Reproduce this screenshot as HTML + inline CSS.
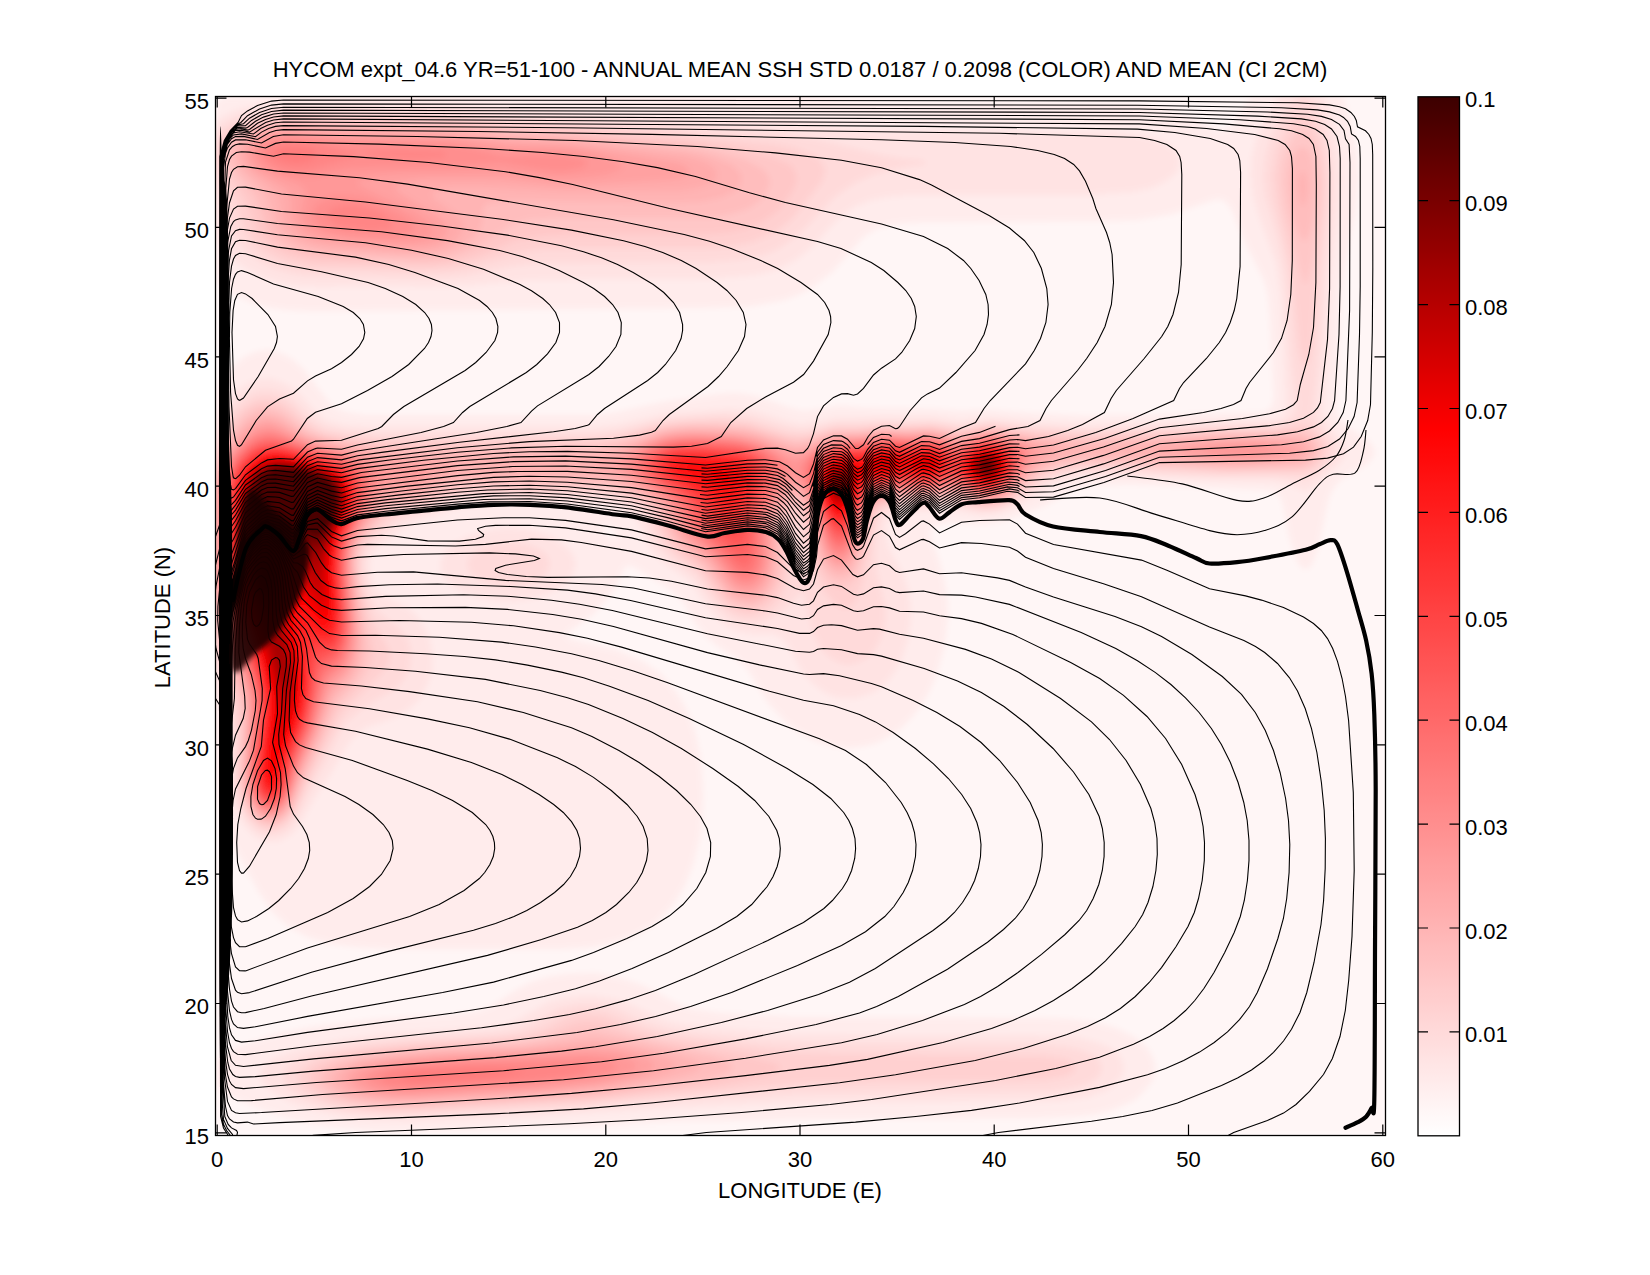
<!DOCTYPE html><html><head><meta charset="utf-8"><style>html,body{margin:0;padding:0;background:#fff;width:1650px;height:1275px;overflow:hidden}</style></head><body><svg width="1650" height="1275" viewBox="0 0 1650 1275" style="position:absolute;left:0;top:0"><rect width="1650" height="1275" fill="#fff"/><rect x="215.5" y="96.5" width="1170.0" height="1039.0" fill="#fffafa"/><defs><filter id="hb" x="0" y="0" width="1" height="1"><feGaussianBlur stdDeviation="3"/></filter><clipPath id="pc"><rect x="215.5" y="96.5" width="1170" height="1039"/></clipPath></defs><g clip-path="url(#pc)"><g filter="url(#hb)"><path fill="#fff6f6" fill-rule="evenodd" d="M1384 1134L216 1134 214 1132 213 1080 213 764 212 580 214 336 212 148 214 96 216 95 284 94 1216 95 1304 93 1384 95 1385 96 1385 452 1385 1132 1384 1134z"/><path fill="#ffecec" fill-rule="evenodd" d="M560 949L388 949 356 947 332 944 308 937 288 926 272 911 259 892 233 844 225 824 218 796 216 767 212 588 212 480 214 424 216 386 232 367 244 357 256 352 268 350 280 353 292 359 304 370 327 400 335 408 345 412 364 415 600 415 618 412 664 402 720 394 736 393 756 396 790 408 804 411 840 406 864 408 932 409 960 411 992 410 1028 413 1084 416 1260 413 1268 411 1271 408 1273 404 1274 396 1270 316 1268 294 1264 280 1246 244 1232 210 1228 204 1224 200 1216 199 1172 214 1136 220 1092 221 924 222 904 223 888 225 876 229 864 236 832 272 812 287 800 294 784 300 752 306 700 308 312 311 288 310 272 308 256 304 244 299 228 291 216 282 213 156 216 101 227 96 272 96 788 96 808 96 852 102 888 104 1112 105 1144 106 1168 110 1188 116 1216 129 1224 130 1228 128 1236 121 1251 96 1304 94 1343 96 1349 116 1354 136 1357 156 1358 180 1355 212 1344 267 1340 292 1336 408 1338 416 1340 420 1348 427 1368 440 1374 448 1374 452 1374 456 1367 464 1340 480 1332 490 1328 500 1318 548 1312 564 1308 569 1304 569 1300 566 1296 558 1289 536 1283 504 1280 496 1276 492 1268 490 1130 484 1096 485 1076 488 1044 506 1004 521 984 524 952 522 938 524 931 528 930 532 930 536 939 560 944 580 947 596 948 616 944 648 936 676 929 692 922 704 912 717 900 729 888 737 876 743 864 746 848 748 832 746 816 741 804 735 788 724 769 704 747 668 738 660 716 645 706 636 696 624 684 603 678 596 668 588 636 568 628 565 624 568 615 588 606 600 592 615 568 632 566 636 572 640 616 650 640 660 660 673 676 692 684 705 691 720 696 736 700 756 702 776 703 796 702 816 700 836 693 864 684 887 672 906 656 923 636 935 616 942 592 947 560 949zM617 536L616 531 612 527 604 526 601 528 603 532 612 539 616 540 617 536zM492 1129L412 1131 372 1131 332 1127 292 1119 264 1110 244 1102 228 1095 217 1088 216 1087 216 1060 232 1050 252 1042 276 1034 312 1027 376 1019 460 1014 476 1012 492 1006 516 990 532 982 548 977 568 974 596 973 624 979 644 986 680 1005 692 1009 720 1013 792 1017 1040 1018 1068 1019 1092 1022 1116 1028 1136 1038 1148 1049 1152 1056 1155 1064 1154 1076 1150 1084 1143 1092 1136 1099 1124 1105 1112 1110 1096 1114 1080 1116 1036 1118 828 1119 672 1121 564 1127 492 1129z"/><path fill="#ffe3e3" fill-rule="evenodd" d="M280 841L268 842 256 838 246 828 238 816 234 804 231 788 228 728 224 712 216 692 213 628 213 552 213 472 216 418 227 400 240 388 248 383 260 379 268 378 276 380 284 383 296 390 316 412 326 420 344 425 372 427 596 427 620 424 668 413 728 409 752 410 784 420 800 424 808 423 836 418 884 417 932 417 960 421 992 418 1032 422 1084 425 1273 420 1280 418 1284 415 1286 404 1281 296 1276 263 1259 216 1253 196 1251 176 1252 156 1256 140 1261 128 1279 96 1304 95 1324 96 1331 116 1337 140 1340 160 1341 180 1339 208 1330 280 1323 412 1328 424 1344 444 1346 452 1345 456 1339 464 1312 488 1308 490 1304 491 1288 484 1272 481 1212 480 1124 476 1088 476 1063 480 1047 488 1016 507 996 514 980 515 956 510 948 510 907 512 893 516 888 520 886 524 886 536 889 548 904 576 909 592 911 616 908 640 900 664 888 681 880 688 872 693 864 696 852 699 840 698 832 696 824 692 813 684 802 672 787 644 780 637 772 634 752 634 740 632 728 627 720 621 708 608 692 584 684 577 664 563 653 552 648 544 640 525 636 519 629 512 620 508 608 506 592 504 476 506 458 508 420 520 404 528 376 549 371 556 370 568 372 580 376 588 380 593 384 596 409 608 417 616 425 628 430 640 433 656 432 672 428 684 420 699 408 710 396 717 365 728 352 739 344 751 332 772 316 796 300 824 292 834 280 841zM472 285L428 287 372 286 320 287 300 286 280 283 264 278 248 270 236 262 224 250 216 237 214 156 216 120 236 110 256 105 272 103 292 102 444 104 648 116 784 119 856 128 884 130 1116 132 1140 135 1160 140 1173 148 1176 152 1180 160 1179 168 1177 172 1168 180 1152 188 1132 192 1088 195 912 195 888 197 872 200 856 206 844 214 836 221 812 247 796 260 776 270 756 275 736 277 708 279 532 280 472 285zM516 601L496 600 480 598 464 593 452 586 443 576 440 568 441 560 445 552 453 544 468 536 484 531 500 528 516 528 532 530 548 535 560 542 568 548 574 556 575 560 575 568 572 577 564 585 548 594 532 599 516 601zM412 1121L376 1120 348 1118 316 1111 292 1103 273 1092 263 1084 261 1080 260 1072 262 1068 270 1060 284 1054 300 1048 344 1039 384 1034 476 1028 504 1025 517 1020 548 1002 564 998 580 996 596 996 616 999 632 1005 665 1020 682 1024 716 1028 800 1034 1032 1035 1076 1037 1096 1042 1111 1048 1120 1056 1122 1060 1124 1068 1122 1076 1119 1080 1108 1090 1088 1097 1060 1101 788 1103 664 1108 560 1115 412 1121z"/><path fill="#ffdada" fill-rule="evenodd" d="M280 833L268 835 256 830 247 820 240 808 237 796 235 784 234 736 232 712 228 698 216 670 214 616 213 552 213 480 216 435 228 412 236 404 244 397 252 393 260 390 268 390 276 391 284 394 292 400 313 420 324 427 348 432 380 434 596 434 620 431 668 419 724 415 752 418 787 428 800 430 808 430 836 423 860 423 884 422 904 423 932 422 960 426 992 422 1036 427 1088 430 1220 426 1268 426 1280 424 1290 420 1294 416 1296 412 1297 404 1292 364 1286 276 1280 244 1266 196 1264 180 1265 164 1267 152 1272 136 1277 124 1288 108 1296 99 1299 96 1307 96 1312 100 1320 114 1326 132 1330 152 1332 176 1331 208 1323 276 1318 364 1313 408 1314 416 1316 420 1334 444 1335 452 1332 460 1320 472 1308 478 1300 479 1276 476 1220 476 1116 471 1080 471 1064 474 1048 480 1016 502 1008 506 996 510 980 511 952 504 928 507 904 507 892 509 884 512 880 519 876 538 876 568 885 608 885 620 883 632 878 644 872 654 863 660 852 664 844 664 836 661 828 656 821 648 813 632 804 594 800 593 785 608 773 616 764 621 756 623 744 622 736 620 728 616 716 605 695 576 672 559 661 548 654 536 647 520 641 512 632 506 620 501 604 498 588 497 472 498 456 501 428 511 407 516 396 522 372 543 366 552 364 564 368 590 376 609 384 617 399 628 408 640 410 648 411 656 410 664 408 672 403 680 396 688 364 707 352 717 344 724 340 732 326 760 312 785 297 816 288 828 280 833zM444 277L420 277 304 275 288 272 272 267 260 261 248 253 240 244 232 232 216 186 215 144 216 132 219 128 236 118 252 113 268 110 288 109 444 111 516 117 572 119 635 124 776 133 816 139 880 155 904 159 921 160 928 164 908 166 888 170 872 175 856 182 844 190 832 199 804 229 791 240 776 250 756 257 736 260 708 262 536 263 512 266 464 275 444 277zM524 585L512 586 500 586 480 580 470 572 468 568 468 560 472 555 480 549 496 544 516 543 526 544 536 548 543 552 547 556 549 560 549 568 547 572 540 579 524 585zM464 1113L416 1115 384 1115 352 1112 328 1107 304 1098 289 1088 286 1084 283 1076 284 1072 288 1067 297 1060 312 1054 336 1048 360 1043 404 1039 492 1034 516 1031 533 1024 552 1013 560 1009 580 1005 596 1005 612 1008 647 1024 668 1030 692 1034 760 1041 820 1044 1024 1045 1064 1047 1080 1050 1092 1055 1099 1060 1102 1068 1099 1076 1088 1084 1072 1088 1052 1091 800 1093 668 1100 560 1109 464 1113z"/><path fill="#ffd0d0" fill-rule="evenodd" d="M452 269L420 271 368 268 312 268 296 265 284 262 264 252 255 244 246 232 241 220 235 200 219 172 216 163 216 147 221 136 232 127 252 119 268 115 288 114 344 116 444 117 516 123 576 125 692 135 771 144 793 148 815 156 820 160 825 168 824 176 820 184 792 219 781 228 772 234 752 242 732 246 708 248 572 248 540 249 516 253 476 264 452 269zM1304 365L1300 351 1290 264 1276 200 1273 176 1277 152 1284 134 1289 124 1296 117 1300 114 1304 113 1308 115 1312 119 1320 137 1325 160 1326 184 1325 208 1317 272 1312 344 1308 363 1304 365zM276 829L268 830 260 827 256 824 248 816 242 804 238 780 238 732 236 708 232 692 217 656 215 644 213 516 216 447 225 428 236 413 244 406 256 399 268 398 280 400 292 408 309 424 324 432 347 436 380 439 456 440 596 439 618 436 652 426 668 423 684 421 716 420 748 422 788 434 800 435 808 434 836 427 860 427 884 425 904 426 932 425 960 429 980 426 992 425 1040 431 1096 434 1220 429 1276 429 1304 423 1312 427 1316 430 1327 444 1328 452 1324 460 1316 468 1304 473 1224 473 1116 467 1080 467 1060 471 1044 476 1036 482 1016 498 1008 503 996 507 980 507 952 501 928 503 904 503 888 506 880 511 876 517 872 532 866 568 862 584 856 600 852 605 848 608 840 607 836 605 828 596 822 588 813 568 804 530 800 522 796 520 791 528 790 568 785 588 778 600 772 607 764 612 752 616 744 615 736 613 724 605 716 596 699 572 676 555 666 544 661 536 652 517 648 511 636 502 620 496 604 492 588 491 472 492 456 495 428 506 400 513 388 520 368 540 363 548 360 560 360 572 364 592 372 619 388 648 390 656 388 664 379 676 347 708 340 718 326 748 308 783 295 812 288 822 284 825 276 829zM460 1109L416 1111 388 1111 364 1109 340 1105 320 1098 304 1088 301 1084 298 1076 300 1072 304 1068 315 1060 328 1056 348 1051 368 1047 412 1043 496 1038 524 1035 544 1029 568 1016 584 1013 604 1015 636 1028 664 1036 768 1050 800 1053 836 1054 1040 1056 1056 1058 1067 1060 1073 1064 1075 1068 1073 1072 1066 1076 1042 1080 808 1083 668 1095 584 1103 460 1109z"/><path fill="#ffc7c7" fill-rule="evenodd" d="M432 265L412 265 312 261 288 255 276 249 269 244 261 236 256 228 246 200 228 172 224 164 222 156 224 144 232 134 244 126 260 121 276 119 292 118 344 120 448 121 516 127 576 130 632 136 688 140 728 146 772 157 789 164 793 168 797 176 796 184 792 192 780 209 764 221 744 229 728 232 704 234 572 234 540 236 516 240 480 255 464 260 448 263 432 265zM1308 281L1304 284 1300 272 1284 208 1281 184 1282 164 1288 146 1296 133 1300 130 1304 130 1308 132 1311 136 1316 147 1319 164 1321 180 1320 200 1318 220 1312 263 1308 281zM276 825L268 826 264 825 256 820 249 812 244 800 240 780 241 724 240 704 236 691 221 656 215 636 214 548 214 488 216 456 226 436 236 421 244 412 256 405 268 404 280 407 288 412 307 428 324 436 352 441 392 444 596 444 620 440 652 430 668 426 688 424 716 424 748 426 788 438 800 439 808 438 832 430 860 430 884 427 904 428 932 427 956 432 992 428 1036 434 1092 437 1136 436 1224 432 1276 432 1300 430 1308 431 1312 434 1321 444 1322 452 1318 460 1312 466 1300 469 1228 470 1124 463 1080 464 1060 467 1044 472 1036 477 1012 498 1004 502 996 504 988 506 980 505 952 498 928 500 904 500 888 503 880 506 874 512 870 524 865 552 860 568 856 578 852 583 844 588 836 587 832 585 826 580 821 572 814 556 808 527 804 516 800 511 796 508 792 510 786 520 785 532 784 568 781 580 778 588 773 596 765 604 756 609 748 610 736 607 728 603 720 594 701 568 680 552 672 544 666 536 657 516 651 508 640 500 620 491 604 488 588 487 472 487 456 490 424 503 396 509 384 516 368 535 363 540 359 552 358 568 360 588 373 648 373 656 369 668 360 684 342 704 336 713 321 748 308 774 294 808 284 820 276 825zM472 1105L396 1108 372 1107 348 1102 329 1096 316 1088 312 1084 311 1080 311 1076 312 1072 316 1068 324 1064 336 1059 368 1051 416 1046 524 1040 544 1036 572 1025 584 1022 600 1023 632 1034 656 1040 748 1056 777 1064 781 1068 776 1072 762 1076 716 1085 588 1099 472 1105z"/><path fill="#ffbdbd" fill-rule="evenodd" d="M452 257L436 259 416 260 324 256 300 252 282 244 272 236 268 230 255 196 235 172 230 164 228 156 229 148 230 144 236 136 248 129 264 124 292 122 344 124 448 125 512 131 576 134 632 141 684 145 716 151 746 160 761 168 766 172 770 180 769 188 761 200 748 209 732 214 716 217 696 218 560 218 528 220 512 225 474 248 452 257zM1304 242L1300 237 1295 224 1290 204 1288 184 1289 172 1292 159 1296 151 1300 147 1304 147 1308 150 1312 159 1314 172 1315 188 1314 204 1312 225 1308 238 1304 242zM280 821L276 822 268 823 260 820 252 812 246 800 243 788 242 776 244 724 243 704 240 691 225 656 216 626 214 552 216 465 223 448 236 429 244 419 256 411 264 409 276 411 284 415 307 432 324 438 364 446 400 449 480 450 596 449 616 445 664 429 680 427 696 426 728 427 748 429 796 443 808 441 832 433 860 432 884 429 904 430 932 430 956 434 964 434 980 430 992 429 1036 437 1088 441 1132 440 1224 434 1300 434 1308 437 1316 444 1317 452 1315 456 1308 463 1300 466 1232 468 1120 460 1080 460 1060 463 1040 470 1032 476 1012 495 1004 500 996 503 980 503 952 496 928 498 904 498 885 500 877 504 871 512 867 524 861 552 856 568 848 578 840 580 832 577 824 568 818 556 811 528 804 508 800 503 796 501 792 502 786 508 782 520 780 532 780 564 778 576 775 584 770 592 764 599 756 604 748 605 736 602 728 597 704 566 677 544 669 532 659 512 652 504 636 494 616 486 600 483 584 482 468 482 452 486 420 500 392 506 384 511 364 535 360 542 356 552 355 564 356 576 366 644 365 656 362 668 353 684 335 704 332 712 321 740 304 777 294 804 288 814 280 821zM416 1105L380 1104 352 1100 332 1092 326 1088 323 1084 321 1080 321 1076 324 1072 328 1068 340 1063 364 1056 396 1051 436 1048 524 1044 547 1040 580 1033 592 1031 608 1034 712 1056 724 1060 731 1064 733 1068 729 1072 708 1079 608 1094 552 1098 416 1105z"/><path fill="#ffb4b4" fill-rule="evenodd" d="M444 253L428 255 412 256 328 252 304 247 289 240 280 232 275 224 269 204 266 196 259 188 242 172 237 164 234 156 235 148 240 140 250 132 264 128 276 126 292 125 344 127 432 128 460 129 512 135 576 138 632 145 680 150 700 153 716 158 730 164 736 168 742 176 741 184 734 192 720 198 700 202 668 203 512 201 492 203 486 204 483 208 482 224 478 232 475 236 464 245 444 253zM1304 207L1300 203 1297 184 1300 172 1304 171 1307 180 1308 188 1307 196 1304 207zM280 818L276 820 268 820 260 817 252 808 246 796 244 776 246 716 245 700 240 683 222 640 216 614 214 552 216 474 222 456 234 436 244 424 256 416 264 414 276 416 284 420 301 432 309 436 339 444 384 452 448 455 564 455 596 454 616 450 660 433 676 430 692 429 728 430 744 431 760 435 788 445 796 447 804 446 824 438 840 434 860 434 884 431 908 432 928 431 952 436 960 437 988 431 1000 432 1036 440 1088 447 1112 446 1204 438 1244 437 1300 438 1308 442 1312 448 1312 452 1309 456 1304 460 1300 462 1252 465 1204 464 1112 454 1080 454 1060 459 1040 466 1032 472 1012 492 1004 498 996 501 988 502 980 501 952 493 928 496 904 495 884 499 876 503 869 512 858 552 853 564 848 571 840 574 832 571 823 560 819 548 812 522 804 502 800 498 796 496 792 496 788 499 784 504 779 516 777 532 776 564 772 580 768 588 764 594 756 599 748 601 736 598 728 592 707 564 680 541 673 532 664 512 657 504 646 496 632 488 608 479 596 477 576 476 468 477 456 479 448 481 420 496 392 501 385 504 380 510 360 536 355 548 353 560 354 572 362 640 361 652 359 664 352 678 336 696 332 703 318 740 304 771 293 800 288 810 280 818zM436 1101L396 1102 368 1099 354 1096 344 1093 336 1088 332 1084 330 1080 331 1076 334 1072 340 1068 360 1060 392 1055 436 1051 524 1047 580 1040 596 1039 628 1044 682 1056 693 1060 700 1064 700 1068 695 1072 682 1076 644 1084 604 1091 552 1095 436 1101z"/><path fill="#ffabab" fill-rule="evenodd" d="M436 249L420 251 404 251 332 247 312 244 295 236 291 232 285 224 282 216 279 200 276 194 270 188 250 172 241 160 240 152 243 144 251 136 264 131 276 129 292 128 344 131 432 131 460 133 512 139 568 141 685 156 700 160 709 164 714 168 717 172 717 176 716 180 710 184 698 188 680 191 564 192 480 188 452 188 440 190 433 192 432 196 436 200 458 216 461 220 463 228 460 236 456 240 448 245 436 249zM276 817L268 818 260 815 252 805 247 792 245 776 248 716 247 700 244 686 230 652 222 628 216 604 215 588 215 488 218 472 228 452 244 430 256 421 268 418 280 422 303 436 316 441 380 456 440 462 454 464 455 468 420 491 412 493 392 496 384 500 376 510 358 536 353 548 352 564 359 632 358 648 356 660 348 676 334 692 329 700 317 736 304 765 291 800 284 812 276 817zM756 594L752 596 744 596 736 593 732 591 725 584 708 560 687 544 680 536 668 512 661 504 651 496 632 485 612 475 597 468 593 464 601 460 652 438 668 433 688 431 724 432 744 434 760 438 788 449 796 450 804 449 824 440 832 437 860 436 884 433 904 434 932 433 956 438 964 438 980 433 996 433 1055 448 1057 452 1036 465 1028 472 1012 491 1004 496 996 499 980 500 960 493 952 491 928 495 900 494 884 497 876 500 871 504 867 512 854 556 848 566 840 569 832 566 824 556 812 516 804 497 800 492 796 490 792 491 788 494 782 500 776 516 774 532 773 560 770 576 764 588 756 594zM1280 461L1244 463 1200 460 1171 456 1153 452 1152 448 1169 444 1220 440 1252 439 1292 442 1302 444 1305 448 1305 452 1300 457 1280 461zM460 1097L416 1099 388 1099 364 1095 348 1089 341 1084 340 1080 340 1076 343 1072 350 1068 359 1064 388 1058 428 1054 524 1050 580 1045 596 1044 620 1047 646 1052 669 1060 674 1064 674 1068 668 1072 657 1076 612 1086 552 1092 460 1097z"/><path fill="#ffa1a1" fill-rule="evenodd" d="M428 245L400 247 340 243 320 240 309 236 302 232 298 228 293 220 291 212 291 200 288 192 284 188 257 172 252 167 247 160 246 152 249 144 256 139 268 134 280 132 292 131 344 134 432 135 460 137 508 143 568 145 672 162 681 164 688 168 690 172 686 176 684 178 668 180 580 185 552 185 500 180 476 180 423 180 400 184 395 188 398 192 438 216 446 224 448 228 448 232 445 236 440 241 428 245zM280 813L272 816 268 816 260 812 253 804 248 792 247 776 249 716 248 696 244 680 225 632 218 604 216 583 216 500 217 484 221 472 230 452 244 435 256 425 268 422 280 426 298 436 312 442 348 451 384 462 420 467 424 468 428 472 427 476 419 484 408 488 392 489 384 493 376 504 356 537 352 549 350 564 356 628 356 644 354 656 348 671 332 688 328 696 316 732 300 768 291 796 287 804 280 813zM756 590L752 592 744 592 736 589 732 586 712 560 684 536 679 528 671 512 665 504 656 496 624 476 615 468 615 464 617 460 628 452 644 444 660 437 676 434 696 433 732 435 756 439 788 452 796 455 804 453 824 442 836 438 860 438 884 434 908 436 928 434 936 435 956 440 964 439 980 435 992 434 1008 437 1029 444 1038 448 1042 452 1039 456 1028 468 1012 488 1004 494 996 498 988 499 980 498 960 491 952 490 928 493 900 492 884 495 876 498 872 501 867 508 852 555 848 561 844 564 840 565 836 564 832 562 825 552 812 510 804 492 800 487 796 485 792 486 784 493 775 508 771 524 771 556 769 568 764 582 756 590zM1280 457L1252 460 1220 459 1196 456 1181 452 1181 448 1198 444 1216 443 1240 442 1260 442 1280 444 1295 448 1295 452 1280 457zM412 1097L388 1096 368 1093 356 1088 351 1084 349 1080 349 1076 353 1072 360 1068 376 1064 396 1060 440 1056 524 1053 592 1049 612 1050 632 1054 649 1060 654 1064 653 1068 648 1072 638 1076 600 1085 544 1090 412 1097z"/><path fill="#ff9898" fill-rule="evenodd" d="M416 241L388 242 344 239 324 235 309 228 305 224 302 216 302 208 306 192 304 188 297 184 268 173 260 168 253 160 251 152 253 148 260 141 268 137 280 135 292 134 348 138 432 139 457 140 508 148 564 149 588 152 602 156 621 164 623 168 614 172 604 175 572 178 548 178 508 174 484 173 400 174 376 176 364 179 359 180 358 184 364 188 414 212 426 220 430 224 432 228 432 233 428 237 416 241zM276 813L268 814 260 810 253 800 250 792 248 776 251 712 250 696 247 684 230 640 224 620 218 588 216 560 218 496 220 480 224 468 233 452 244 439 256 429 268 426 280 430 304 441 344 452 366 460 381 468 385 472 387 476 356 533 350 548 349 572 354 628 354 644 351 656 344 671 332 683 328 689 314 732 300 766 290 796 284 807 276 813zM756 585L752 587 744 588 736 585 732 582 712 556 688 536 682 528 675 512 669 504 660 496 635 480 626 472 624 468 623 464 625 460 633 452 647 444 664 438 680 436 700 435 736 437 760 443 792 459 796 459 804 456 824 444 836 440 860 439 884 435 908 437 928 436 936 437 956 442 964 441 980 436 992 435 1004 437 1013 440 1029 448 1033 452 1032 456 1030 460 1014 484 1004 492 996 496 988 498 980 497 960 489 952 488 928 492 900 491 884 493 876 496 870 500 865 508 852 550 847 556 844 560 840 561 836 560 832 557 826 548 812 506 804 488 800 482 796 480 792 480 788 483 780 493 772 508 768 524 767 564 763 576 756 585zM1252 457L1227 456 1205 452 1206 448 1216 447 1236 445 1252 445 1271 448 1272 452 1252 457zM436 1093L408 1094 388 1093 372 1090 360 1084 358 1080 359 1076 363 1072 376 1068 400 1063 448 1059 588 1053 618 1056 630 1060 636 1064 636 1068 630 1072 619 1076 592 1082 540 1087 436 1093z"/><path fill="#ff8e8e" fill-rule="evenodd" d="M312 177L296 176 280 173 268 167 260 160 258 152 259 148 263 144 272 140 288 138 304 138 348 143 408 143 448 144 473 148 504 156 544 154 560 154 576 157 585 160 588 164 582 168 580 169 560 172 540 170 500 163 452 167 368 168 348 169 312 177zM396 237L356 235 340 233 328 230 320 226 315 220 313 216 314 208 317 204 324 200 336 196 356 197 376 202 398 212 410 220 413 224 414 228 412 232 396 237zM276 811L268 812 260 808 254 800 250 788 249 772 253 712 252 696 248 679 232 640 225 616 220 592 218 560 219 500 221 484 225 472 232 456 244 442 256 433 268 430 276 431 307 444 340 453 359 460 371 468 374 472 376 480 375 488 369 504 352 536 348 552 348 572 353 628 352 640 350 652 344 666 329 680 325 688 314 728 300 762 290 792 284 804 276 811zM752 583L748 584 740 583 732 577 716 556 689 532 673 504 664 496 635 476 629 468 629 464 634 456 648 447 668 439 688 437 720 438 740 440 760 445 775 452 790 464 792 468 791 472 776 494 768 512 766 524 765 556 763 568 759 576 752 583zM840 557L836 556 832 553 828 547 808 491 798 472 797 468 808 456 824 446 836 442 860 441 884 437 908 439 932 437 956 444 964 443 980 437 992 437 1000 438 1012 442 1023 448 1027 452 1026 460 1015 480 1008 489 996 495 988 496 980 496 960 488 952 486 928 490 900 489 876 494 868 500 864 508 849 548 844 556 840 557zM452 1089L400 1091 382 1088 372 1084 368 1080 369 1076 375 1072 388 1068 410 1064 468 1061 584 1058 606 1060 616 1064 617 1068 611 1072 598 1076 574 1080 531 1084 452 1089z"/><path fill="#ff8585" fill-rule="evenodd" d="M312 169L300 170 288 169 280 167 272 163 266 156 265 152 268 148 276 144 288 141 300 142 319 144 348 152 358 152 355 156 348 158 312 169zM444 157L420 158 384 157 372 156 362 152 396 150 424 151 444 152 446 156 444 157zM388 229L368 230 344 227 335 224 330 220 328 216 328 212 332 208 344 205 356 205 368 208 380 212 391 220 393 224 388 229zM276 809L268 810 260 805 254 796 251 788 250 772 254 712 254 696 250 680 233 636 226 612 222 588 220 560 221 500 223 484 227 472 235 456 244 445 256 436 268 433 276 434 302 444 336 454 353 460 364 467 368 472 370 476 371 484 367 504 352 535 347 552 346 572 351 624 348 648 346 656 341 664 328 677 324 684 313 724 297 764 289 792 284 802 276 809zM752 578L744 580 736 576 716 552 693 532 676 504 668 496 649 484 640 476 634 468 634 464 638 456 649 448 664 442 680 439 696 439 728 440 748 443 768 451 780 460 784 468 784 472 767 508 763 524 762 552 761 564 757 572 752 578zM840 553L836 552 832 549 828 542 804 476 804 468 805 464 811 456 824 447 836 443 860 442 884 438 908 440 932 439 956 445 964 444 980 439 992 438 1000 439 1012 443 1020 448 1023 452 1024 456 1022 464 1014 480 1006 488 996 494 988 495 980 495 960 486 952 484 932 489 904 488 876 493 870 496 864 504 852 539 848 547 844 551 840 553zM460 1085L412 1087 387 1084 381 1080 382 1076 390 1072 408 1068 464 1064 552 1064 580 1064 590 1068 584 1072 564 1077 532 1080 460 1085z"/><path fill="#ff7c7c" fill-rule="evenodd" d="M308 161L296 163 284 161 276 156 276 152 280 148 288 147 296 147 308 148 315 152 316 156 308 161zM276 807L268 808 261 804 256 797 253 788 251 772 256 712 255 696 252 680 235 636 229 616 223 588 221 560 222 500 225 484 228 472 237 456 248 445 256 439 268 436 280 438 304 447 336 455 349 460 356 465 364 472 366 476 368 484 367 496 365 504 350 536 346 552 345 572 349 624 349 636 346 648 340 662 328 672 324 677 320 689 312 724 296 764 289 788 284 800 276 807zM752 573L748 575 744 575 736 571 720 552 696 531 691 524 683 508 676 500 643 476 638 468 638 464 642 456 653 448 664 444 680 441 696 440 732 442 748 445 764 452 775 460 778 464 780 472 763 512 760 528 758 560 756 568 752 573zM840 549L836 548 832 544 828 537 814 500 807 476 807 468 811 460 824 449 836 445 860 444 884 439 904 441 932 440 956 447 960 447 980 440 988 439 996 439 1008 443 1016 448 1020 452 1021 460 1015 476 1008 486 996 493 988 494 980 494 972 491 960 484 952 483 932 487 900 487 880 490 872 492 868 497 864 503 848 543 844 547 840 549zM448 1081L420 1082 403 1080 402 1076 420 1072 488 1069 508 1070 526 1072 506 1076 448 1081z"/><path fill="#ff7272" fill-rule="evenodd" d="M276 805L268 806 264 805 257 796 254 788 252 772 257 712 257 696 252 676 237 636 229 612 225 588 223 560 224 500 226 484 230 472 236 460 248 447 256 442 268 438 280 440 305 448 332 455 345 460 356 468 360 472 364 480 365 488 365 496 362 508 348 536 345 552 344 572 348 620 347 632 345 644 340 657 324 672 321 676 309 728 295 760 286 792 281 800 276 805zM840 545L836 544 832 540 828 533 814 496 809 476 809 468 813 460 820 454 828 449 836 446 860 445 884 440 908 443 932 441 956 449 964 447 976 442 988 440 1004 443 1014 448 1017 452 1019 456 1018 464 1013 476 1007 484 996 492 988 493 980 493 972 490 960 483 952 481 932 486 904 485 880 489 872 491 868 495 864 501 848 538 844 543 840 545zM748 569L744 570 736 566 720 548 697 528 686 508 680 500 647 476 642 468 642 464 646 456 651 452 664 446 676 443 692 442 720 443 740 445 751 448 764 454 771 460 776 468 775 476 760 512 757 528 755 556 752 564 748 569z"/><path fill="#ff6969" fill-rule="evenodd" d="M272 805L268 805 264 803 260 799 256 792 254 784 254 772 258 712 258 696 253 676 237 632 230 608 226 584 224 556 225 500 230 476 238 460 248 450 260 442 268 441 280 442 328 456 344 462 352 467 357 472 362 480 363 492 360 508 348 536 343 552 343 572 346 620 346 632 344 644 340 652 337 656 324 666 320 672 310 720 294 760 286 788 280 800 272 805zM748 562L744 563 740 562 736 559 725 548 701 528 696 521 689 508 683 500 650 476 645 468 645 464 650 456 656 452 668 446 680 444 696 443 728 446 744 448 756 452 767 460 772 468 772 476 758 512 754 528 752 552 748 562zM840 541L836 540 832 536 828 529 818 504 811 480 811 472 813 464 819 456 828 450 836 447 860 447 884 442 908 444 924 442 932 442 956 451 960 450 976 443 988 441 996 441 1004 444 1011 448 1015 452 1017 460 1016 468 1012 476 1004 486 992 492 984 492 976 490 960 481 952 479 932 485 904 484 880 487 872 490 868 493 864 498 848 534 844 539 840 541z"/><path fill="#ff6060" fill-rule="evenodd" d="M276 802L272 803 268 803 264 801 260 796 255 784 255 772 260 712 259 696 255 676 233 612 228 588 225 560 227 500 228 488 232 476 237 464 248 452 256 446 268 443 280 444 324 456 344 464 351 468 357 476 360 484 361 492 359 508 346 536 342 552 342 572 345 616 345 628 342 640 340 648 336 654 324 662 318 668 316 678 311 708 307 724 293 760 285 788 281 796 276 802zM840 538L836 537 828 525 817 500 812 480 812 472 815 464 821 456 828 452 840 448 860 448 880 443 908 445 928 443 936 444 956 452 960 452 976 444 988 442 996 442 1002 444 1009 448 1013 452 1015 456 1015 464 1011 476 1004 485 992 491 984 491 976 489 960 479 952 477 932 484 904 482 872 488 868 491 863 496 848 530 844 536 840 538zM744 554L740 555 736 552 708 530 700 521 693 508 687 500 654 476 649 468 648 464 653 456 660 452 672 447 684 445 696 445 740 449 752 453 764 460 769 468 769 476 755 512 748 548 744 554z"/><path fill="#ff5656" fill-rule="evenodd" d="M840 534L836 533 828 522 819 500 814 480 814 472 816 464 823 456 832 451 840 449 860 449 884 444 908 446 928 444 936 445 952 454 956 455 960 454 976 445 988 443 996 443 1004 446 1011 452 1013 456 1014 464 1010 476 1003 484 992 490 984 490 976 488 960 478 956 476 952 475 932 483 904 481 872 487 868 489 864 494 848 527 844 532 840 534zM272 801L268 801 264 799 259 792 256 784 256 772 261 712 261 696 256 674 238 624 232 604 228 580 227 552 229 496 231 484 235 472 242 460 252 451 260 447 272 445 284 446 320 456 340 463 348 468 355 476 358 484 359 492 357 508 345 536 341 552 341 572 344 616 342 636 340 643 336 650 332 653 320 660 317 664 310 704 305 724 292 760 284 789 279 796 276 800 272 801zM740 545L732 543 712 529 704 521 691 500 684 494 664 482 657 476 652 468 652 464 656 456 664 452 673 448 684 447 696 447 740 451 752 455 760 460 766 468 766 472 765 480 753 508 744 540 740 545z"/><path fill="#ff4d4d" fill-rule="evenodd" d="M844 529L840 531 836 529 832 525 821 504 816 484 815 472 818 464 824 458 832 453 840 451 860 451 876 446 884 445 908 448 928 445 940 448 952 456 956 457 960 456 976 446 988 443 996 444 1004 448 1010 452 1012 456 1013 464 1008 476 1001 484 992 489 984 489 976 487 956 473 952 473 940 479 932 482 924 482 904 480 872 485 868 487 864 492 852 516 844 529zM276 798L272 800 268 799 264 797 260 791 258 784 257 768 262 708 262 692 257 672 239 624 234 604 229 580 228 556 230 500 231 488 235 476 241 464 252 453 260 449 272 446 284 448 324 458 340 464 348 470 353 476 357 484 358 492 356 508 344 536 340 552 339 572 342 616 340 636 336 646 332 649 320 654 316 659 313 668 309 704 305 720 291 756 284 786 280 794 276 798zM736 537L728 535 716 528 708 520 698 504 690 496 660 476 655 468 655 464 656 460 660 456 668 452 680 449 704 449 740 453 752 457 760 464 763 472 761 484 744 527 740 534 736 537z"/><path fill="#ff4444" fill-rule="evenodd" d="M844 525L840 527 836 526 832 522 822 504 817 484 817 472 819 464 824 459 832 454 840 452 860 452 876 447 884 446 908 449 928 446 937 448 952 459 956 460 976 447 988 444 996 445 1003 448 1008 452 1010 456 1011 464 1007 476 1000 484 992 488 984 489 976 486 967 480 956 470 952 470 942 476 932 480 924 481 904 478 872 484 868 486 864 490 852 514 844 525zM272 798L268 797 264 795 259 784 258 768 264 708 263 692 258 672 235 604 231 580 229 552 231 500 232 488 236 476 242 464 252 455 260 450 272 448 284 449 320 458 340 466 348 472 353 480 356 488 357 496 355 508 343 536 339 552 338 572 341 612 339 632 336 641 332 646 316 651 313 656 309 696 304 720 290 756 281 788 276 796 272 798zM732 530L724 528 716 523 695 496 663 476 660 472 658 464 660 460 664 457 672 453 680 451 692 450 708 451 740 455 752 460 757 464 760 472 759 484 740 524 736 528 732 530z"/><path fill="#ff3a3a" fill-rule="evenodd" d="M844 523L840 524 836 523 832 520 824 505 818 488 817 476 819 468 824 461 829 456 840 453 860 454 880 447 888 447 908 450 928 447 940 451 950 460 951 464 950 468 945 472 936 478 924 480 904 477 872 482 868 484 860 492 852 511 844 523zM996 486L984 488 974 484 964 476 958 468 957 464 968 452 980 447 992 445 1001 448 1006 452 1009 456 1010 464 1006 476 1003 480 996 486zM276 794L272 796 268 795 264 792 260 782 259 768 265 708 264 692 259 672 237 604 232 580 231 556 232 500 234 488 237 476 244 465 252 457 260 452 272 450 284 451 316 458 336 465 344 470 349 476 353 484 355 496 353 508 342 536 338 552 337 572 340 612 338 628 336 637 332 642 328 644 316 645 312 649 309 660 308 692 305 712 300 728 289 756 281 784 276 794zM732 523L728 523 720 520 712 512 699 496 667 476 661 468 661 464 663 460 668 456 676 453 684 452 696 452 736 456 748 460 753 464 757 472 756 484 740 516 736 520 732 523z"/><path fill="#ff3131" fill-rule="evenodd" d="M840 522L836 521 828 511 822 496 819 484 818 476 820 468 826 460 832 457 840 454 860 455 876 449 884 448 908 452 928 448 940 452 947 460 948 464 947 468 940 475 932 478 924 478 904 476 868 482 864 485 860 492 848 515 844 520 840 522zM996 485L984 487 976 484 970 480 966 476 961 468 960 464 965 456 976 449 984 446 996 447 1005 452 1009 460 1009 468 1004 478 996 485zM272 794L268 793 264 790 260 776 266 708 265 692 260 669 237 600 233 576 232 548 233 500 235 488 239 476 246 464 256 456 264 452 276 451 316 459 336 466 344 472 350 480 353 488 354 496 352 508 341 536 337 552 336 572 339 612 336 628 333 636 328 640 312 640 309 644 307 652 307 688 303 712 298 728 287 756 280 784 276 792 272 794zM736 513L732 515 728 516 720 513 699 492 671 476 667 472 665 468 665 464 667 460 673 456 680 455 696 454 732 457 743 460 749 464 754 472 754 480 748 496 736 513z"/><path fill="#ff2727" fill-rule="evenodd" d="M992 485L984 486 976 483 967 476 963 468 963 464 967 456 972 452 980 448 988 447 996 448 1004 453 1008 460 1007 468 1004 476 1000 481 992 485zM276 789L272 792 268 791 264 786 262 780 262 768 267 708 267 692 261 668 238 600 234 576 233 552 234 500 236 488 240 476 247 464 256 458 264 454 276 452 288 454 316 460 336 468 342 472 349 480 352 488 353 496 351 508 340 536 336 552 335 572 337 608 336 625 332 634 328 637 320 637 312 634 308 634 306 636 305 644 306 684 304 705 298 724 286 756 280 780 276 789zM844 517L840 519 836 518 832 515 824 500 820 488 820 476 822 468 828 461 832 458 840 456 860 457 876 451 884 449 908 453 928 450 937 452 942 456 945 460 946 464 944 468 940 473 932 477 924 477 904 474 888 478 868 480 864 483 860 488 852 506 844 517zM728 509L720 506 704 492 675 476 670 472 668 468 669 464 671 460 684 456 700 456 732 459 745 464 749 468 751 472 751 476 750 484 740 501 732 508 728 509z"/><path fill="#ff1e1e" fill-rule="evenodd" d="M988 485L980 484 972 479 966 472 964 464 969 456 973 452 980 449 988 448 996 449 1001 452 1005 456 1007 464 1005 472 1000 480 996 483 988 485zM840 517L836 516 832 512 828 506 824 496 821 484 821 476 823 468 828 462 832 459 840 457 860 459 876 452 884 450 908 455 928 451 936 453 940 456 943 460 943 464 942 468 938 472 932 475 924 476 912 473 904 473 888 477 868 478 864 481 860 487 848 511 844 515 840 517zM272 789L268 789 265 784 263 776 269 708 268 692 261 664 239 596 235 572 234 548 236 496 238 484 241 476 248 466 256 459 264 455 276 454 288 455 316 461 335 468 341 472 347 480 351 488 352 496 350 508 339 536 335 552 334 572 336 608 335 620 332 629 328 633 324 633 320 632 308 626 303 628 302 640 305 680 302 704 297 724 284 756 278 780 276 786 272 789zM732 501L728 502 720 500 704 488 680 476 675 472 672 468 673 464 680 460 692 458 725 460 740 465 745 468 747 472 748 480 744 488 740 495 732 501z"/><path fill="#ff1515" fill-rule="evenodd" d="M844 513L840 515 836 514 832 510 828 503 823 492 822 480 823 472 827 464 832 461 836 459 844 458 860 460 864 460 876 453 884 452 908 457 922 452 928 452 936 455 941 460 941 464 940 468 936 472 932 474 924 475 908 470 904 470 888 476 868 477 864 479 860 484 852 501 844 513zM996 482L992 484 984 484 976 481 970 476 966 468 966 464 970 456 976 452 984 449 992 449 1000 452 1004 456 1005 460 1005 468 1002 476 996 482zM272 786L267 784 265 780 264 772 270 708 269 692 261 660 240 596 236 572 235 548 237 496 240 484 243 476 248 468 256 461 264 457 276 455 288 456 312 461 333 468 340 473 346 480 349 488 351 496 349 508 338 536 334 552 333 572 334 608 332 623 328 628 324 629 320 628 308 619 304 618 300 624 299 636 303 676 301 700 296 723 283 756 277 780 272 786zM736 493L728 496 720 494 680 472 678 468 679 464 688 461 696 460 724 463 736 466 739 468 743 472 744 476 742 484 736 493z"/><path fill="#ff0b0b" fill-rule="evenodd" d="M996 481L992 483 984 483 976 480 971 476 969 472 967 464 972 456 977 452 984 450 992 450 1000 454 1004 460 1004 468 1000 476 996 481zM272 783L268 781 266 772 271 708 271 692 261 656 241 596 237 572 237 548 238 500 242 480 248 470 256 462 264 458 276 456 288 457 312 462 332 469 340 475 345 480 348 488 350 496 348 508 337 536 333 552 332 572 333 604 331 616 328 624 324 625 320 624 308 613 304 611 300 613 298 616 296 624 296 632 302 676 300 700 295 720 281 756 276 778 272 783zM844 511L840 512 836 511 832 508 828 501 824 492 823 484 824 474 826 468 832 462 836 460 844 459 860 463 864 462 876 455 884 453 892 454 904 459 908 460 920 455 928 454 936 456 939 460 939 464 938 468 932 473 920 472 908 467 904 468 888 474 868 474 864 476 860 481 848 504 844 511zM732 489L728 489 720 488 688 472 685 468 689 464 696 464 716 465 731 468 737 472 739 476 738 480 736 484 732 489z"/><path fill="#ff0202" fill-rule="evenodd" d="M992 482L988 482 980 481 973 476 970 472 968 464 970 460 973 456 980 452 988 451 996 452 1001 456 1003 460 1004 464 1002 472 999 476 992 482zM840 510L836 509 832 505 828 498 824 488 824 476 827 468 831 464 836 462 844 461 864 467 875 456 884 454 892 456 899 460 901 464 897 468 888 472 880 473 868 470 864 470 848 504 844 508 840 510zM932 471L924 472 915 468 911 464 913 460 919 456 924 455 933 456 937 460 937 464 935 468 932 471zM272 778L269 772 273 708 273 696 265 664 245 604 240 584 238 556 239 508 240 496 242 484 245 476 251 468 256 464 264 459 272 457 280 457 312 463 332 470 340 476 346 484 348 492 348 500 346 512 336 536 332 552 330 568 331 604 328 616 324 620 320 619 308 607 304 604 300 605 295 612 294 628 300 668 300 694 292 724 278 756 276 770 272 778zM728 481L719 480 712 476 707 472 716 471 725 472 730 476 728 481z"/><path fill="#f30000" fill-rule="evenodd" d="M992 481L984 481 980 480 974 476 971 472 970 464 971 460 974 456 980 453 984 452 992 452 1000 456 1002 460 1003 464 1001 472 998 476 992 481zM892 469L884 472 880 471 872 468 870 464 873 460 880 457 888 456 895 460 896 464 892 469zM276 750L273 736 275 708 274 692 261 644 243 592 240 572 239 548 240 500 242 488 245 480 252 469 260 463 268 459 280 458 312 464 324 467 332 471 339 476 344 484 347 492 347 500 345 512 335 536 330 552 329 568 329 600 328 611 324 615 320 614 308 600 304 597 300 598 296 603 294 608 292 616 292 628 298 668 298 692 296 706 288 730 280 745 276 750zM932 469L928 470 920 468 916 464 917 460 924 457 928 457 932 458 934 460 935 464 932 469zM844 506L840 508 836 507 832 503 828 496 825 484 825 476 829 468 833 464 840 462 852 464 858 468 859 472 852 494 844 506z"/><path fill="#e40000" fill-rule="evenodd" d="M988 481L980 479 976 477 971 468 972 463 976 457 980 454 988 452 992 453 998 456 1001 460 1002 464 1000 472 997 476 992 480 988 481zM280 737L276 732 277 708 274 688 261 640 245 592 241 572 240 552 241 500 243 488 246 480 252 471 260 464 268 461 280 459 312 465 324 468 332 472 337 476 343 484 346 492 346 500 344 512 334 536 329 552 327 572 327 596 326 604 324 608 320 608 308 594 304 591 300 591 296 595 292 605 289 616 289 628 297 668 297 688 292 713 284 732 280 737zM888 469L884 470 877 468 874 464 877 460 880 459 888 459 891 460 893 464 888 469zM932 465L928 467 924 467 920 464 922 460 928 459 930 460 932 465zM840 506L836 505 831 500 828 492 826 480 828 472 832 467 836 464 844 464 848 464 854 468 856 472 856 476 853 488 848 499 844 504 840 506z"/><path fill="#d40000" fill-rule="evenodd" d="M992 479L984 479 977 476 974 472 972 464 974 460 980 455 988 453 992 454 996 456 1000 460 1000 468 999 472 996 476 992 479zM284 722L281 720 277 692 264 644 246 592 243 576 241 560 242 504 245 484 249 476 256 468 264 463 276 460 288 461 304 464 320 468 328 471 336 476 340 481 344 488 345 496 345 504 343 512 333 536 328 552 325 568 324 598 320 600 308 586 304 583 300 584 296 588 289 604 287 616 287 628 294 664 296 684 292 705 284 722zM888 465L884 466 879 464 884 461 888 463 888 465zM844 502L840 504 836 503 833 500 829 492 827 484 828 477 829 472 832 468 840 465 844 465 851 468 854 472 854 476 851 488 848 497 844 502z"/><path fill="#c50000" fill-rule="evenodd" d="M992 478L984 478 979 476 975 472 973 464 975 460 980 456 988 454 992 455 996 457 998 460 999 468 996 475 992 478zM288 705L284 706 265 640 249 596 245 580 243 560 243 504 247 484 250 476 257 468 268 463 276 461 288 462 304 465 316 467 328 472 334 476 340 482 343 488 345 496 344 504 342 512 330 540 326 552 320 589 316 587 308 578 304 575 300 576 296 581 288 602 285 616 285 628 292 660 294 676 292 692 288 705zM840 502L836 501 832 496 829 488 828 480 831 472 834 468 840 467 844 467 848 468 851 472 852 480 848 494 844 500 840 502z"/><path fill="#b60000" fill-rule="evenodd" d="M992 477L984 477 976 472 975 468 975 464 980 458 988 455 992 456 997 460 998 464 998 468 996 472 992 477zM288 695L284 694 280 685 265 632 250 596 246 580 244 560 245 500 248 484 252 476 260 468 268 464 280 462 308 466 328 473 336 479 340 484 344 496 343 504 341 512 326 548 320 571 316 575 304 566 300 566 296 572 287 596 283 612 282 624 283 632 292 672 291 684 288 695zM844 497L840 500 836 498 832 493 830 484 832 474 836 470 840 468 844 468 848 471 851 476 849 488 844 497z"/><path fill="#a70000" fill-rule="evenodd" d="M988 477L984 476 980 474 976 468 976 464 978 460 984 457 988 456 992 457 996 460 997 464 997 468 995 472 988 477zM284 685L280 677 276 662 273 644 269 632 256 606 251 592 247 576 245 556 246 500 249 484 253 476 261 468 270 464 280 463 308 467 320 470 328 474 336 480 339 484 342 492 343 500 340 514 320 559 316 564 312 563 304 556 300 556 296 562 292 573 282 604 279 624 280 640 288 662 288 668 288 684 284 685zM840 497L836 496 833 492 831 484 832 476 836 472 840 470 844 471 846 472 849 476 849 480 848 488 845 492 840 497z"/><path fill="#970000" fill-rule="evenodd" d="M992 474L988 475 984 475 979 472 977 468 977 464 980 460 988 458 994 460 996 464 996 468 992 474zM272 624L264 616 256 601 248 576 246 556 247 496 252 480 260 471 272 465 288 465 316 470 330 476 336 482 340 488 342 496 341 504 336 520 320 552 316 555 312 554 304 548 300 547 296 550 276 619 272 624zM840 495L836 493 832 484 834 476 836 474 840 472 844 473 846 476 847 480 844 492 840 495z"/><path fill="#880000" fill-rule="evenodd" d="M988 474L982 472 979 468 979 464 982 460 988 459 992 460 994 464 994 468 992 472 988 474zM272 614L268 614 260 604 254 592 250 576 248 552 248 500 250 488 253 480 259 472 272 466 288 465 316 471 328 476 336 484 341 496 340 508 332 527 320 546 316 548 312 548 304 542 300 541 296 542 294 544 292 549 286 576 280 597 276 608 272 614zM840 491L836 489 834 484 836 478 840 475 844 476 845 480 844 488 840 491z"/><path fill="#790000" fill-rule="evenodd" d="M992 470L988 472 984 472 981 468 981 464 984 462 988 461 992 464 992 470zM272 606L268 607 264 604 260 599 256 591 251 576 249 552 249 500 251 488 254 480 260 474 264 471 272 467 288 466 316 472 328 477 332 480 338 488 340 500 338 512 328 532 320 542 316 544 312 543 300 536 296 537 292 540 289 548 281 584 276 600 272 606zM840 487L838 484 840 479 841 480 841 484 840 487z"/><path fill="#6a0000" fill-rule="evenodd" d="M988 470L983 468 984 464 988 463 989 464 989 468 988 470zM268 601L264 599 259 592 255 584 252 567 251 500 254 484 259 476 263 472 276 468 296 468 320 474 330 480 337 488 339 500 336 515 328 529 320 538 316 540 312 539 300 533 296 533 290 536 287 544 283 568 279 584 276 593 272 599 268 601z"/><path fill="#5a0000" fill-rule="evenodd" d="M272 593L268 595 264 593 260 588 256 578 254 568 252 500 255 484 260 477 264 474 276 468 291 468 308 471 320 475 329 480 336 488 337 492 338 500 336 512 328 527 320 535 316 536 304 531 296 530 292 532 288 536 284 544 280 574 276 586 272 593z"/><path fill="#4b0000" fill-rule="evenodd" d="M268 589L264 588 260 582 255 564 254 504 256 486 262 476 268 472 272 471 284 470 304 472 321 476 332 484 336 492 336 508 332 519 324 530 320 533 316 534 300 528 296 527 292 529 286 532 282 540 280 562 276 579 272 586 268 589z"/></g></g><g clip-path="url(#pc)" fill="none" stroke="#000" stroke-width="1.1"><path d="M221.5 637L220.3 614.5 219.9 534.5 219.9 156.5 224.3 140.5 230.2 130.5 238.1 122.5 241.5 115.6 247.5 110.9 257.5 105.5 271.5 101.1 283.5 100 1139.5 100.9 1297.5 102.8 1329.5 104.9 1339.5 106.7 1345.5 108.8 1350.9 112.5 1354.4 116.5 1356.3 120.5 1357.5 126.8 1365.5 130.8 1368.9 134.5 1371 138.5 1372.3 144.5 1372.7 154.5 1372.8 268.5 1372.3 332.5 1370.5 404.5 1367.7 420.5 1361.2 436.5 1353.5 447.1 1343.5 453.8 1327.5 458.1 1305.5 460.1 1159.5 462.6 1103.9 482.5 1053.5 497.1 1025.5 497.5 1017.5 492.4 1007.5 491.3 979.5 497.7 961.5 499.8 939.5 513.2 929.5 502.6 923.5 499.6 921.5 500 899.5 519.4 895.5 514.9 889.5 498.9 881.5 494.5 873.5 499.2 867.5 514.2 863.5 531.1 861.5 535.1 857.5 537.7 855.5 535.5 853.5 530.5 848 508.5 844.3 500.5 841.5 496.5 833.5 493.2 823.5 498.6 817.8 512.5 813.5 552.8 809.5 571.6 807.5 574.1 803.5 576.8 795.5 566 786.2 546.5 779.5 536.2 777.5 534 765.5 527.7 747.5 525.9 705.5 531.7 667.5 521.3 631.5 512.7 567.5 504 529.5 501.5 489.5 501.9 457.5 504.1 385.5 511.3 357.5 514.9 341.5 520.8 331.5 517.3 317.5 509.7 307.5 515.3 299.5 534.5 293.5 546.2 291.5 545.8 279.5 534 267.5 529.3 261.5 532.1 247.5 546.1 245.5 549.2 240.5 566.5 223.5 636.4 221.5 637M223.5 629.6L221.8 624.5 221.1 614.5 220.3 538.5 220.2 158.5 222.7 146.5 227.1 136.5 230.9 130.5 235.5 125.3 240.9 122.5 247.5 115.7 259.5 108.9 271.5 105.1 283.5 103.9 1137.5 105.2 1281.5 107.7 1317.5 109.9 1329.5 111.9 1339.5 115.1 1343.5 117.4 1347.5 121.3 1350.2 126.5 1351.5 133.9 1355.6 136.5 1358.4 140.5 1359.8 146.5 1360.2 158.5 1360.2 286.5 1359.5 334.5 1357.1 402.5 1354.1 416.5 1348.2 428.5 1339.5 439 1327.9 446.5 1313.5 450.6 1289.5 453.2 1159.5 457.2 1105.5 476.6 1053.5 491.8 1025.5 492.5 1017.5 487.8 1007.5 486.9 979.5 493.3 961.5 495.4 939.5 508.4 929.5 498.3 923.5 495.4 921.5 495.8 899.5 514.7 895.5 510.3 889.5 495 881.5 490.9 873.5 495.4 867.5 509.8 863.5 526.4 861.5 530.3 857.5 532.9 855.5 530.8 853.5 525.9 848 504.5 844 496.5 841.5 493.1 833.5 490 823.5 495.3 817.9 508.5 813.5 548 809.5 566.5 807.5 569 803.5 571.5 795.5 561 786.6 542.5 779.5 531.7 777.5 529.6 765.5 523.6 747.5 521.9 705.5 527.6 667.5 517.6 631.5 509.3 567.5 501 529.5 498.7 483.5 499.5 385.5 508.6 357.5 512.3 341.5 518.1 331.5 514.7 317.5 507.4 307.5 512.9 293.5 543.2 291.5 542.9 279.5 531.4 267.5 527 261.5 529.7 247.5 543.6 245.5 546.7 240.8 562.5 223.5 629.6M223.5 622.5L221.5 602.7 220.5 518.5 220.6 158.5 224.7 142.5 228.8 134.5 233.5 128.1 237.5 124.9 243.5 123.7 249.5 118.2 259.5 112.5 271.5 108.5 283.5 107.2 1139.5 109 1267.5 112 1307.5 114.2 1321.5 116.4 1331.5 119.6 1339.5 124.4 1344 130.5 1345.5 138.9 1349.1 144.5 1350 162.5 1349.6 310.5 1345.9 400.5 1343.2 412.5 1337.8 422.5 1329.5 431 1319.5 436.9 1303.5 441.7 1281.5 444.7 1159.5 451.1 1105.5 470.5 1053.5 485.9 1025.5 487 1017.5 482.7 1007.5 482 979.5 488.5 961.5 490.6 939.5 503.2 929.5 493.6 923.5 490.9 921.5 491.3 917.5 494.4 899.5 509.6 895.5 505.3 889.5 490.8 881.5 486.9 873.5 491.4 867.5 505.1 863.5 521.2 861.5 525.1 857.5 527.7 855.5 525.7 853.5 520.8 848.8 502.5 845.1 494.5 841.5 489.4 833.5 486.6 823.5 491.7 817.5 505.5 813.5 542.8 809.5 561 803.5 566 795.5 555.7 786.1 536.5 779.5 526.9 777.5 524.9 765.5 519.2 747.5 517.7 705.5 523.3 631.5 505.8 567.5 497.9 529.5 495.7 493.5 495.9 477.5 497.1 385.5 505.8 357.5 509.5 341.5 515.2 331.5 512 317.5 505 307.5 510.5 293.5 540.1 291.5 539.7 279.5 528.7 267.5 524.6 261.5 527.3 247.5 541 245.5 544 242.2 554.5 227.5 611.8 223.5 622.5M223.5 614.6L222 590.5 220.8 512.5 220.7 160.5 223 148.5 225.1 142.5 229.2 134.5 233.5 128.9 237.5 126 245.5 125.6 251.5 120.4 261.5 114.8 271.5 111.5 283.5 110.1 1139.5 112.5 1257.5 116.1 1301.5 118.9 1315.5 121.3 1324.7 124.5 1331.5 129 1337 136.5 1339.5 146.5 1340.2 158.5 1340.1 286.5 1339 334.5 1334.6 400.5 1332.5 408.5 1327.9 416.5 1321.5 422.5 1313.5 426.9 1297.5 431.8 1277.5 434.9 1159.5 443.8 1103.5 463.9 1053.5 478.8 1025.5 480.6 1017.5 476.8 1007.5 476.4 979.5 482.9 961.5 485 939.5 497.2 929.5 488.2 923.5 485.8 921.5 486.2 917.5 489.1 899.5 503.8 895.5 499.7 889.5 486.1 881.5 482.5 873.5 486.8 867.5 499.9 863.5 515.4 861.5 519.3 857.5 521.9 855.5 519.8 853.5 515.1 849.1 498.5 845.3 490.5 841.5 485.4 833.5 482.7 823.5 487.7 817.5 500.9 813.5 537 809.5 554.9 803.5 559.9 795.5 549.8 785.8 530.5 779.5 521.6 777.5 519.7 765.5 514.4 747.5 513 705.5 518.6 631.5 502 567.5 494.5 529.5 492.5 483.5 493.6 385.5 502.9 357.5 506.6 341.5 512.3 331.5 509.2 317.5 502.5 307.5 507.9 293.5 536.8 291.5 536.5 279.5 525.9 267.5 522.1 261.5 524.8 247.5 538.3 245.5 541.2 240.7 556.5 227.5 607.2 225.5 613.2 223.5 614.6M225.5 607.2L223.5 605.1 223 596.5 221.2 518.5 220.9 164.5 222.8 150.5 225.5 142.5 231.5 131.9 237.5 127.2 245.5 128.1 247.5 127.5 255.5 121.2 263.5 117.1 273.5 114 283.5 113 1139.5 116 1239.5 119.8 1293.5 123.7 1307.5 126.3 1315.5 129.2 1323.2 134.5 1327 140.5 1329.3 150.5 1329.9 172.5 1329.6 288.5 1327.5 339.6 1320.3 402.5 1317.5 407.9 1313.5 412.4 1303.5 418.3 1289.5 422.5 1269.5 425.6 1159.5 435.8 1103.5 455.4 1053.5 470.2 1025.5 472.8 1017.5 469.8 1007.5 469.7 979.5 476.3 961.5 478.5 939.5 489.8 929.5 481.9 923.5 479.8 917.5 483 899.5 496.7 895.5 493 889.5 480.6 881.5 477.5 873.5 481.5 867.5 493.7 863.5 508.3 861.5 512.1 857.5 514.7 855.5 512.7 853.5 508.1 849 492.5 844.7 484.5 841.5 480.7 833.5 478.3 823.5 483.2 817.5 495.6 813.5 530 809.5 547.8 803.5 552.7 795.5 542.9 786.2 524.5 779.5 515.5 777.5 513.7 765.5 508.9 747.5 507.7 705.5 513.3 631.5 497.8 567.5 490.8 529.5 489 487.5 490 457.5 492.3 387.5 499.6 357.5 503.6 341.5 509.1 331.5 506.2 317.5 499.9 307.5 505.2 293.5 533.4 291.5 533.1 279.5 523 267.5 519.4 261.5 522.1 247.5 535.4 245.5 538.3 240.8 552.5 229.5 595.4 225.5 607.2M225.5 600.4L223.5 591 221.5 514.5 221.1 164.5 223.1 150.5 225.5 143.3 231.5 132.6 235.5 129.2 239.5 128.5 247.5 130.1 249.5 129.5 257.5 123.3 265.5 119.4 273.5 117 283.5 115.9 1139.5 119.7 1223.5 123.9 1279.5 128.8 1291.5 130.8 1302.7 134.5 1309 138.5 1313.4 144.5 1315.9 156.5 1316.3 184.5 1315.9 282.5 1313.5 327.5 1308.8 354.5 1300.3 384.5 1297.2 400.5 1293.5 404.7 1285.5 409.2 1269.5 413.8 1242.4 418.5 1159.5 427.7 1103.5 447 1053.5 461.2 1025.5 464.3 1017.5 462 1007.5 462.3 979.5 468.7 961.5 470.9 939.5 481 929.5 474.6 923.5 472.9 921.5 473.3 899.5 487.9 895.5 484.9 889.5 474.2 881.5 471.6 873.5 475.4 867.5 486.3 863.5 499.1 861.5 502.6 857.5 505 855.5 503.3 853.5 499.3 847.5 482.5 843.5 477.1 841.5 475.3 833.5 473.3 831.5 473.9 823.5 477.9 817.5 489.3 813.5 520.5 809.5 538.1 803.5 543.2 795.5 533.4 786.6 516.5 779.9 508.5 777.5 506.5 765.5 502.3 747.5 501.5 705.5 507 631.5 493.1 567.5 486.8 529.5 485.2 493.5 486 457.5 488.8 399.5 494.9 357.5 500.3 341.5 505.7 331.5 503 317.5 497 307.5 502.2 293.5 529.6 291.5 529.3 279.5 519.8 267.5 516.5 261.5 519.2 247.5 532.4 245.5 535.1 242.2 544.5 229.5 590.7 225.5 600.4M227.5 590.8L225.5 591.6 223.9 576.5 221.8 512.5 221.4 164.5 223.4 150.5 225.5 144.2 229.5 136.4 235.5 130.4 241.5 130.3 249.5 132.1 265.6 122.5 273.5 120 283.5 118.9 1139.5 123.9 1206.6 128.5 1254.7 134.5 1278.2 140.5 1285.1 144.5 1289.8 150.5 1291.5 156.5 1292.4 168.5 1292.3 260.5 1290.8 294.5 1287.1 320.5 1281.5 338.3 1273.4 352.5 1249.6 382.5 1246 388.5 1241 400.5 1233.5 404.5 1221 408.5 1203.4 412.5 1159.5 419.1 1104.6 438.5 1053.5 453 1025.5 456.3 1017.5 454.5 1009.5 454.6 979.5 461.2 961.5 463.3 939.5 472.1 929.5 466.9 923.5 465.6 916.8 468.5 899.5 478.6 895.5 476.3 889.5 467.4 881.5 465.3 873.5 468.7 867.5 478.1 863.5 488.7 861.5 491.6 857.5 493.7 853.5 489.2 848 476.5 843.5 471 841.5 469.4 833.5 467.8 831.5 468.3 823.5 472.1 817.5 482.3 813.5 508 809.5 524.3 803.5 529.5 795.5 519.9 787.5 506.9 783.4 502.5 777.5 497.8 765.5 494.5 747.5 494.1 705.5 499.4 631.5 487.6 567.5 482.2 529.5 481 493.5 481.9 457.5 484.8 401.5 491 357.5 496.6 341.5 502 331.5 499.5 317.5 493.9 307.5 499 293.5 525.5 291.5 525.2 279.5 516.3 267.5 513.3 261.5 516.1 247.5 529 245.5 531.7 240.4 546.5 227.5 590.8M227.5 582.8L225.5 578.5 223.5 552.8 222.2 508.5 221.9 166.5 223.5 152.1 225.5 145.6 229.5 137.6 233.5 132.9 239.5 131.8 253.5 134 260.7 128.5 267.5 125.2 275.5 122.8 283.5 122 923.5 126.4 1137.5 129.1 1174.8 132.5 1210.3 138.5 1227.7 144.5 1233.7 148.5 1238.1 154.5 1239.8 160.5 1240.6 172.5 1240.1 266.5 1236.8 298.5 1234.2 310.5 1230.2 322.5 1225.6 332.5 1219.3 342.5 1206.4 358.5 1183.6 382.5 1179.5 388.5 1173.7 400.5 1133.1 418.5 1095.8 432.5 1053.5 445 1025.5 448.8 1017.5 447.3 1009.5 447.6 979.5 454.2 961.5 456.3 939.5 464.4 929.5 459.8 923.5 458.7 899.5 470.6 895.5 468.6 889.5 460.8 881.5 459 873.5 462.2 867.5 470.6 863.5 479.9 861.5 482.4 857.5 484.2 853.5 480.5 847.5 468.7 843.5 464.7 841.5 463.4 833.5 462.1 831.5 462.6 823.5 466.2 817.5 475.3 813.5 497.2 809.5 511.1 803.5 515.8 785.1 494.5 777.5 489.3 765.5 486.7 747.5 486.4 705.5 491.2 631.5 481.5 567.5 477 529.5 476.2 493.5 477.4 407.5 486.1 357.5 492.6 341.5 497.8 331.5 495.5 317.5 490.4 307.5 495.4 293.5 520.8 291.5 520.6 279.5 512.3 267.5 509.8 261.5 512.5 247.5 525.2 245.5 527.9 242.3 536.5 229.5 578.9 227.5 582.8M227.5 570.8L225.5 561.8 223.5 539.7 222.5 504.5 222.4 166.5 223.5 154.9 225.5 147.4 229.5 138.9 233.5 134.9 241.5 133.9 255.5 136.7 261.5 132.1 268.6 128.5 275.5 126.4 283.5 125.6 565.5 127.7 999.5 133.3 1139.5 137.5 1154.6 140.5 1166.9 144.5 1176 150.5 1179.7 156.5 1181.1 162.5 1181.8 174.5 1181.2 264.5 1178.5 292.5 1173 314.5 1167.8 326.5 1161.7 336.5 1144.2 358.5 1116.3 390.5 1111.1 398.5 1104.4 412.5 1082.5 424.5 1067.7 430.5 1048.5 436.5 1025.5 440.6 1017.5 439.5 1009.5 440 979.5 447.1 961.5 449.3 939.5 457.2 929.5 453.1 921.5 452.6 899.5 463.5 895.5 461.6 889.5 454.5 881.5 452.9 873.5 456 867.5 463.9 863.5 472.4 861.5 474.7 857.5 476.5 853.5 473.1 847.5 462.4 843.5 458.8 841.5 457.5 833.5 456.5 831.5 457 823.5 460.4 817.5 468.8 813.5 488.8 809.5 501.1 803.5 505.2 795.5 498.1 784.9 486.5 777.5 482.1 765.5 479.7 747.5 479.6 705.5 483.8 631.5 475.2 567.5 471.4 517.5 471.5 493.5 472.4 457.5 475.6 357.5 488 341.5 493 331.5 491.1 317.5 486.6 307.5 491.4 293.5 515.3 291.5 515.1 279.5 507.8 267.5 505.8 261.5 508.6 247.5 520.9 245.5 523.5 240.5 536.5 229.5 570.1 227.5 570.8M229.5 557.3L227.5 556.1 225.5 548.4 223.5 528.5 222.9 508.5 223 166.5 223.5 158.4 227.3 144.5 231.5 138.7 235.5 136.6 243.5 136.4 257.5 139.5 269.5 132.5 275.9 130.5 283.5 129.6 477.5 131.5 651.5 134.4 881.5 139.7 954.7 142.5 1010.7 146.5 1037.7 150.5 1054.2 154.5 1064.6 158.5 1073.7 164.5 1079.5 170.9 1085.5 181.2 1092.8 198.5 1095.9 208.5 1106.5 232.5 1109.7 242.5 1112.1 254.5 1113.5 282.5 1111.4 304.5 1105 326.5 1097.2 342.5 1086.7 358.5 1077.5 370.5 1051.4 400.5 1046.1 408.5 1040 420.5 1027.9 426.5 1009.5 429.6 979.5 438.6 961.5 441.4 939.5 449.5 929.5 446 921.5 445.6 899.5 456.3 895.5 454.7 889.5 448 881.5 446.7 873.5 449.7 867.5 457.2 863.5 465.3 861.5 467.5 857.5 469.2 853.5 466.1 847.5 456.1 843.5 452.8 841.5 451.7 831.5 451.3 823.5 454.6 817.5 462.6 813.5 481.3 809.5 492.6 803.5 496.4 783.2 478.5 777.5 475.5 765.5 473.4 747.5 473.3 705.5 477.3 631.5 469.4 565.5 466 512.6 466.5 457.5 470.5 357.5 483 341.5 487.8 331.5 486.3 317.5 482.4 307.5 487 293.5 508.9 291.5 508.9 279.5 502.8 267.5 501.4 261.5 504.1 256.3 508.5 245.5 518.4 231.5 554.3 229.5 557.3M229.5 545.4L227.5 544.7 225.5 538.4 223.2 504.5 222.7 308.5 223.5 167.7 225.5 153.3 227.5 147.9 231.5 142.2 235.5 139.9 245.5 139.7 261.5 143 273.3 136.5 283.5 134.8 417.3 136.5 574.8 140.5 697.5 146.5 775.5 152.9 841.5 160.2 881.5 167.8 919.5 179.6 931.5 185 989.5 215.8 1009.5 228 1024.3 240.5 1033.8 252.5 1041.4 268.5 1046.8 288.5 1048.1 304.5 1045.9 322.5 1040.5 338.5 1034.3 350.5 1025.5 363.9 990.3 400.5 984 408.5 975.5 422.5 961.5 428.1 939.5 438.5 929.5 436.2 923.5 435.9 899.5 447.5 895.5 446.2 889.5 440.2 881.5 439.2 873.5 442.4 867.5 449.6 863.5 457.3 861.5 459.4 857.5 461.1 853.5 458.4 847.5 449.2 843.5 446.1 841.5 445.1 831.5 444.9 823.5 448.3 817.5 456 813.5 473.7 809.5 484.1 803.5 487.7 795.5 482.2 787.5 474.4 783.5 471.8 777.5 468.9 765.5 467 747.5 467.2 705.5 471.3 631.5 464.1 565.5 460.9 513.5 461.6 457.5 465.6 359.5 477.6 341.5 482.4 331.5 481.3 317.5 478 307.5 482.5 293.5 502.3 291.5 502.4 279.5 497.5 275.5 497 267.5 496.6 261.5 499.4 245.5 512.9 233.5 539.3 229.5 545.4M229.5 536.4L227.5 536 225.5 530 223.5 498.5 223.5 222.6 225.5 162 229.5 149.9 232.5 146.5 235.5 144.7 239.5 143.9 247.5 144.2 265.5 148 275.5 143.4 283.5 142 379.5 144.1 483.7 148.5 542.4 152.5 583.9 156.5 623.5 161.7 657.5 167.6 695.5 176.5 749.5 192.8 785.4 202.5 881.5 224 923.5 236.5 947.7 248.5 963.5 260.5 970.8 268.5 979.1 280.5 985.8 294.5 988.1 304.5 988.5 314.5 987.1 324.5 984 334.5 975.1 350.5 955.9 372.5 939.5 388.1 927.5 393.9 921.5 397.9 910.2 410.5 899.5 426.7 897.5 428.4 895.5 428.7 889.5 425.5 881.5 426.3 875.5 429.2 873.5 430.2 868.2 436.5 863.5 444.8 858.4 448.5 855.5 448.5 847.5 439.2 841.5 435.9 833.5 435.7 823.5 439.9 817.5 447.5 813.5 464 809.5 473.7 803.5 477.4 795.5 472.7 787.5 466 779.5 461.8 765.5 459.7 747.5 460.3 705.5 465 631.5 458.9 565.5 456.1 513.5 456.9 457.5 461 361.4 472.5 341.5 477.4 331.5 476.5 317.5 473.7 307.5 478 293.5 496.3 291.5 496.4 279.5 492.4 275.5 492.1 267.5 492 261.5 494.6 245.5 507.5 235.5 527.3 229.5 536.4M229.5 529.2L227.5 528.6 225.5 522 224.1 496.5 223.7 246.5 225.5 192.8 227.5 166.6 229.5 159.5 231.5 156.1 236.3 152.5 241.5 151.7 249.5 152.1 273.5 156.3 283.5 153.7 353.5 156.6 428.8 162.5 505.5 171.7 539.5 177.6 572.7 184.5 669.5 208.5 817.5 241.5 841 248.5 871.3 262.5 883.8 270.5 897.9 282.5 905.8 290.5 911.3 298.5 914.7 306.5 916.3 316.5 914.7 328.5 909.7 340.5 901.7 352.5 895.5 358.9 881.5 368.2 873.5 375 863.5 388.4 857.5 393.9 853.5 395.2 847.5 393.6 841.5 393.9 833.5 397.4 823.5 405.9 817.5 416.6 813.5 433.6 809.5 444.9 807.6 448.5 803.5 452.6 795.5 453.3 785.5 449.7 777.5 448.1 765.5 448.4 705.5 457.5 631.5 453.3 567.5 451.4 529.5 451.7 493.5 453.5 423.5 460.3 357.5 468.6 341.5 472.8 317.5 469.6 307.5 473.7 293.5 491 275.5 487.4 267.5 487.5 261.5 490.1 245.5 502.4 235.5 520.8 229.5 529.2M229.5 522.9L227.5 521.9 225.5 513.3 224.6 492.5 223.7 334.5 224.4 248.5 225.5 218.4 229.5 179.2 231.5 172.5 233.5 169.3 237.5 166.8 243.5 166.4 277.5 171.1 359.5 177.7 407.5 184.1 613.5 219.8 684.2 234.5 709.5 241.3 731 248.5 760.8 260.5 777.7 268.5 801 282.5 817.5 294.5 824.7 302.5 829 310.5 830.6 316.5 830.9 322.5 828.2 334.5 813.5 361.1 803.6 374.5 793.5 382.3 765.5 397 746.7 408.5 730.8 422.5 721.3 436.5 707.5 443.5 691.5 446.2 673.5 447.1 565.5 446.2 511.5 447.9 457.5 452.3 389.5 460 357.5 464.4 341.5 468.4 317.5 465.6 307.5 469.6 293.5 486.2 275.5 483.1 267.5 483.3 261.5 485.9 245.5 497.8 235.5 515.2 229.5 522.9M229.5 517L227.5 515.2 226.5 510.5 225.2 490.5 224.2 336.5 225 252.5 226.3 226.5 229.5 202.7 233.5 190.9 237.5 187.3 245.5 187.1 281.5 194 365.5 202 501.5 219.2 571.5 230.1 623.5 240.7 644.9 246.5 662.7 252.5 681.3 260.5 696.1 268.5 717.1 282.5 726.9 290.5 736.2 300.5 743.3 312.5 746 324.5 744.5 336.5 738.4 350.5 727.2 366.5 718.6 376.5 708 386.5 669.3 414.5 663 420.5 655.3 430.5 651.5 432.3 639.5 435.1 613.5 438.2 529.5 441.6 457.5 447.7 359.5 459.9 341.5 464.2 317.5 461.7 307.5 465.7 293.5 481.7 275.5 479 267.5 479.3 261.5 481.9 245.5 493.5 235.5 510.1 229.5 517M229.5 511L227.5 507.8 227 504.5 225.7 480.5 224.8 338.5 225.5 258.7 227.3 230.5 229.5 218.1 233.5 209.1 237.5 206.3 245.5 206.1 281.5 211.5 369.5 218 441.5 226 507.5 235.1 561.5 245.8 583.5 251.8 601.5 257.8 617.6 264.5 633.2 272.5 653.3 284.5 663.8 292.5 673.5 302.5 679.6 312.5 682.6 324.5 682.6 330.5 681.1 338.5 675.7 350.5 665.4 364.5 657.7 372.5 647.7 380.5 604.5 408.5 597.5 414.5 589.1 424.5 587.5 425.2 575.2 428.5 553.5 431.8 459.5 442.3 383.5 452.1 357.5 455.8 341.5 459.9 317.5 457.6 307.5 461.6 293.5 477.2 275.5 474.8 267.5 475.2 261.5 477.8 245.5 489.3 235.5 505.2 231.5 510.2 229.5 511M231.5 504.6L229.5 504.5 227.6 498.5 226.8 484.5 225.5 388.5 225.5 294.2 227.6 242.5 230.8 226.5 233.5 221.6 235.5 219.9 239.5 218.7 243.5 218.7 277.5 223.5 381.5 231.7 447.5 240.6 499.7 250.5 521.9 256.5 543.5 263.9 559.2 270.5 583.4 282.5 593.7 288.5 604.6 296.5 612.6 304.5 618 312.5 621.3 322.5 620.9 334.5 616 346.5 608.6 356.5 599.1 366.5 588.9 374.5 537.5 405.9 531.5 411.1 521 422.5 506.8 426.5 476.5 432.5 357.5 451 341.5 455.1 317.5 453.2 307.5 457.2 293.5 472.4 275.5 470.4 267.5 471 261.5 473.6 245.5 485 235.5 500.3 231.5 504.6M233.5 497L231.5 498.1 229.5 496.3 227.8 480.5 226.1 318.5 227.2 270.5 228.6 250.5 231.5 236 235.5 230.7 239.5 229.4 243.5 229.5 277.5 234.7 365.5 242.7 411.5 250.2 448.3 258.5 483.5 269.2 520 284.5 531.5 290.7 542.8 298.5 549.4 304.5 555.6 312.5 559.5 322.5 559.5 332.5 555.9 342.5 547.5 353.9 536.8 364.5 526.3 372.5 469.8 406.5 462.6 412.5 453.4 422.5 443.6 426.5 421.1 432.5 357.5 445 341.5 449.3 317.5 448 315.5 448.6 307.5 452 293.5 466.9 275.5 465.4 267.5 466.1 261.5 468.8 245.5 480.4 233.5 497M235.5 488.6L233.5 489.9 231.5 489.4 229.5 480.2 227.5 405.4 226.9 336.5 227.5 289.1 229.4 260.5 231.5 248.8 235.5 241.8 239.5 240.2 245.5 240.5 277.5 247.1 355.5 257.1 388.8 264.5 414.9 272.5 458 288.5 479.6 300.5 487 306.5 492.4 312.5 495.9 318.5 497.9 326.5 497.6 332.5 494.9 340.5 486.1 352.5 475.7 362.5 465.1 370.5 403.9 406.5 393.4 414.5 381.8 426.5 378.2 428.5 341.5 440.2 315.5 441.1 307.5 444.7 293.5 459.3 279.5 458.5 267.5 459.9 261.5 462.9 245.5 474.8 235.5 488.6M235.5 478.8L233.5 477.8 233.1 476.5 231.5 466.5 229 406.5 227.9 338.5 229.5 282.2 231.5 266.2 233.5 259 235.5 255.5 239.5 253.2 245.5 253.7 277.5 263.5 321.5 271.7 368.1 282.5 385.3 288.5 402.8 296.5 415.8 304.5 424.7 312.5 429 318.5 431.4 324.5 432 330.5 431 336.5 428.5 342.5 424.5 348.5 408.7 364.5 392 376.5 367.5 390.4 341.5 403.7 315.5 412.2 307.3 418.5 293.5 439.2 291.5 440.9 265.5 450.3 245.5 466.8 239.5 475.2 235.5 478.8M241.5 444.8L239.5 446.4 237.5 445.3 235.5 440.5 233.5 430.1 230.6 392.5 229.4 338.5 229.8 312.5 231.6 288.5 233.5 279.2 235.5 274.4 237.5 271.9 241.5 270.6 247.5 272.4 273.5 284 318.2 296.5 343.2 306.5 353.3 312.5 359.8 318.5 363.4 324.5 364.8 332.5 363.5 338.8 359.1 346.5 351.5 354.5 341.5 362.5 331.5 368.7 315.5 376.1 307.5 380.9 293.5 393.2 279.5 399.1 267.5 406.8 256.2 420.5 241.5 444.8M239.5 400.5L237.5 399 235.5 393.6 233.5 379.8 232 332.5 233.1 310.5 234.8 300.5 237.5 294.3 241.5 292.6 245.5 293.9 252.1 298.5 267.9 314.5 275.5 326.5 277.4 336.5 276.5 342.5 274.3 348.5 258.2 376.5 243.5 398 239.5 400.5M1019.5 491.4L1017.5 490.2 1009.5 488.9 979.5 495.6 961.5 497.6 939.5 510.8 929.5 500.5 923.5 497.6 921.5 498 899.5 517.1 895.5 512.6 889.5 497 881.5 492.7 873.5 497.4 867.5 512 863.5 528.7 861.5 532.7 857.5 535.3 855.5 533.2 853.5 528.3 848 506.5 843.5 497.4M820.2 504.5L817.5 511.6 813.5 550.4 809.5 569.1 807.5 571.6 803.5 574.2 795.5 563.5 786.4 544.5 779.5 534 777.5 531.8 767.5 526.5 747.5 523.9 707.5 529.7 701.2 528.5M1019.5 486.5L1017.5 485.4 1009.5 484.2 979.5 491 961.5 493 939.5 505.9 929.5 496 923.5 493.2 921.5 493.6 899.5 512.2 895.5 507.9 889.5 492.9 881.5 489 873.5 493.5 867.5 507.5 863.5 523.9 861.5 527.8 857.5 530.4 855.5 528.3 853.5 523.4 847.5 501 841.5 491.3 837.5 489.8M825.5 492.2L823.5 493.5 817.5 507.6 813.5 545.4 809.5 563.8 807.5 566.3 803.5 568.8 795.5 558.4 786.9 540.5 779.5 529.4 777.5 527.3 767.5 522.3 747.5 519.8 707.5 525.5 701.5 524.5M1019.5 480.9L1017.5 479.9 1009.5 479 979.5 485.8 961.5 487.9 939.5 500.3 929.5 491 923.5 488.5 921.5 488.9 899.5 506.8 895.5 502.6 889.5 488.5 881.5 484.8 873.5 489.2 867.5 502.6 863.5 518.5 861.5 522.3 857.5 524.9 855.5 522.9 853.5 518 847.5 496.6 843.5 489.8 841.5 487.5 833.5 484.7 831.5 485.3 823.5 489.8 817.5 503.3 813.5 540 809.5 558.1 807.5 560.5 803.5 563 795.5 552.8 786.5 534.5 779.5 524.4 777.5 522.4 767.5 517.6 747.5 515.4 707.5 521 701.5 520M1019.8 474.5L1017.5 473.5 1009.5 472.9 979.5 479.7 961.5 481.9 939.5 493.7 929.5 485.2 923.5 483 921.5 483.4 899.5 500.5 895.5 496.6 889.5 483.4 881.5 480.1 873.5 484.3 867.5 496.9 863.5 512.1 861.5 515.9 857.5 518.5 855.5 516.5 853.5 511.8 847.5 491.6 843.5 485.2 841.5 483.1 833.5 480.6 831.5 481.1 823.5 485.5 817.5 498.4 813.5 533.7 809.5 551.5 803.5 556.5 795.5 546.5 786.5 528.5 779.5 518.7 777.5 516.9 767.5 512.5 747.5 510.5 707.5 516.1 701.5 515.1M1019.5 466.7L1009.5 465.7 979.5 472.6 961.5 474.8 939.5 485.5 929.5 478.4 923.5 476.5 921.5 476.9 899.5 492.5 895.5 489.1 889.5 477.5 881.5 474.6 873.5 478.6 867.5 490.1 863.5 504 861.5 507.7 857.5 510.2 855.5 508.3 853.5 504 847.5 485.8 843.5 480 841.5 478.1 833.5 475.9 831.5 476.5 823.5 480.6 817.5 492.6 813.5 525.7 809.5 543.4 803.5 548.4 795.5 538.6 787.4 522.5 781.6 514.5 777.5 510.3 769.5 507.1 765.5 505.7 747.5 504.8 707.5 510.3 701.5 509.5M1019.5 458.8L1009.5 458.2 979.5 464.9 961.5 467 939.5 476.4 929.5 470.7 923.5 469.2 921.5 469.6 899.5 483.2 895.5 480.5 889.5 470.8 881.5 468.5 873.5 472.1 867.5 482.2 863.5 493.9 861.5 497 857.5 499.3 855.5 497.8 853.5 494.2 847.5 479.1 843.5 474.1 841.5 472.4 833.5 470.6 831.5 471.1 823.5 475.1 817.5 485.9 813.5 514.4 809.5 531.7 803.5 536.8 795.5 527.1 786 510.5 777.5 502.2 765.5 498.5 747.5 497.9 707.5 503.3 700.5 502.5M1019.5 451.4L1009.5 451.1 979.5 457.6 961.5 459.7 939.5 468.1 929.5 463.3 921.5 462.5 899.5 474.5 895.5 472.3 889.5 464 881.5 462.1 873.5 465.4 867.5 474.3 863.5 484.1 861.5 486.7 857.5 488.7 853.5 484.7 847.5 472.1 843.5 467.8 841.5 466.4 833.5 464.9 831.5 465.5 823.5 469.1 817.5 478.7 813.5 502.2 809.5 517.2 803.5 522.2 795.5 513.2 787.5 501.6 777.5 493.4 765.5 490.5 747.5 490.2 707.5 495.2 700 494.5M1019.5 444L1009.5 443.9 979.5 450.7 961.5 452.8 939.5 460.8 929.5 456.5 921.5 455.8 899.5 467 895.5 465.1 889.5 457.6 881.5 456 873.5 459.1 867.5 467.2 863.5 476.1 861.5 478.4 857.5 480.2 853.5 476.7 847.5 465.5 843.5 461.7 841.5 460.4 833.5 459.3 831.5 459.8 823.5 463.2 817.5 472 813.5 492.8 809.5 505.8 803.5 510.2 795.5 502.5 787.5 492.5 777.5 485.6 765.5 483.1 747.5 482.9 707.5 487.3 701.5 486.9M1019.5 434.9L1009.5 435.5 979.5 443.2 961.5 445.6 939.5 453.6 929.5 449.7 921.5 449.2 899.5 460 895.5 458.2 889.5 451.3 881.5 449.9 873.5 452.9 867.5 460.6 863.5 468.9 861.5 471.1 857.5 472.8 853.5 469.6 847.5 459.3 843.5 455.8 841.5 454.6 833.5 453.6 823.5 457.5 817.5 465.7 812.9 486.5M792.4 490.5L786.8 484.5 779.5 479.6 765.5 476.5 747.5 476.4 707.5 480.4 701.5 480.1M995.5 426.2L979.5 432.4 961.5 436.2 939.5 444.8 929.5 441.7 921.5 441.5 899.5 452.3 895.5 450.8 889.5 444.4 881.5 443.2 873.5 446.3 867.5 453.6 863.5 461.5M853.5 462.5L847.5 452.8 843.5 449.6 841.5 448.5 833.5 447.7 823.5 451.5 817.5 459.4 815.2 470.5M785.5 476.5L777.5 472.2 765.5 470.3 747.5 470.3 707.5 474.3 701.5 473.9M891.6 436.5L889.5 434.8 881.5 434.2 873.5 437.5 867.5 444.7M850.2 448.5L847.5 444.9 843.5 442 841.5 441.1 833.5 440.6 823.5 444.5 817.5 452.2 816.4 456.5M777.5 465.2L765.5 463.6 747.5 463.9 707.5 468.2 701.5 467.9M211.5 547.6L219.5 525.2 220.1 594.5 221.5 607.5 223.5 609.1 227.5 602.6 232.3 590.5 245.5 543.6 249.5 537.2 261.5 523.4 267.5 521.2 279.5 529.6 291.5 545.5 293.5 546.6 299.5 538.8 307.5 521.5 317.5 518.6 331.5 531.5 341.5 535.8 357.5 530.5 457.5 520 503.5 517.7 529.5 517.8 565.5 520.4 631.5 529.9 705.5 548.9 747.5 544.4 765.5 546.5 777.5 552.5 793.5 568.6 803.5 573.6 809.5 571 813.5 562.6 816.5 546.5 817.5 532 823.5 511.5 831.5 505.2 833.5 504.5 841.5 510.9 847.5 525.9 852.5 544.5 855.5 549.3 857.5 550.3 861.5 548.5 863.5 546.2 873.5 518.2 881.5 512.5 889.5 518.7 895.5 534.4 899.5 537.4 905.5 533.8 921.5 521.3 923.5 520.9 929.5 524.1 939.5 532.9 961.5 522.2 979.5 520.5 1009.5 519.8 1017.5 524.1 1025.5 533.2 1053.5 544.5 1141.5 560.1 1167.5 570.4 1209.5 588.7 1245.5 595.9 1261.5 600.1 1283.5 607.5 1303.5 617.1 1313.5 623.5 1321.3 630.5 1327.5 638.6 1332.7 648.5 1337.5 661.4 1342.1 678.5 1345.5 696.5 1348.6 720.5 1353.3 792.5 1354.2 870.5 1352 936.5 1348.7 980.5 1345.3 1010.5 1340 1036.5 1332.4 1058.5 1323.5 1074.5 1309.5 1091.4 1296 1104.5 1283.5 1113.1 1267.4 1120.5 1233.7 1132.5 1226.2 1136.5 1224.6 1138.5M230.2 1138.5L223.5 1128 220.6 1116.5 219.5 704.7 211.5 692.3M211.5 581.1L219.5 549.1 220.2 600.5 221.5 610.1 223.5 610.9 227.5 604 232.7 590.5 245.5 545.1 249.5 538.8 261.5 525 267.5 522.8 279.5 531.3 291.5 547.5 293.5 548.6 299.5 541.3 307.5 524.9 315.5 523.1 317.5 523.1 331.5 536.9 341.5 541.1 357.5 536.6 381.5 535.3 393.5 536 427.5 540.9 459.5 541.1 475.5 539.2 483.1 536.5 483.7 534.5 478.5 530.5 477.6 528.5 485.5 526.3 495.5 525.4 529.5 525.2 565.5 527.9 631.5 537.9 705.5 556.8 747.5 554.5 765.5 556.8 777.5 561.8 793.5 575.5 803.5 580 809.5 577.7 813.5 570.2 816.5 556.5 817.5 545.4 823.5 525.3 831.5 519.1 833.5 518.6 841.5 526 852.3 554.5 855.5 558.7 857.5 559.5 861.5 558.1 863.5 556.2 873.5 535.1 881.5 530.6 889.5 536.3 895.5 547.5 899.5 549.8 921.5 539.6 923.5 539.4 929.5 541.8 939.5 548 961.5 542.6 981.5 543.5 1009.5 547.2 1017.5 551 1025.5 557.2 1053.5 568.6 1103.5 583.8 1141.5 596.7 1209.5 626.9 1243.9 640.5 1255.5 646.5 1264.7 652.5 1277.5 663.5 1289.5 677.8 1297.5 691 1305.2 708.5 1311.5 728.6 1316.9 752.5 1321.4 782.5 1324.2 810.5 1325.4 838.5 1325.2 868.5 1323.6 900.5 1321 924.5 1314 962.5 1306.8 992.5 1300 1012.5 1291.5 1029.3 1283.5 1041 1273.5 1052.3 1263.5 1061.3 1251.5 1070 1237.5 1078 1221.5 1085.6 1177.5 1103.1 1152.1 1110.5 1122.7 1116.5 1091.5 1121.2 998.5 1132.5 977.7 1136.5 973 1138.5M231.4 1138.5L231.2 1136.5 226.6 1130.5 223.6 1124.5 221.6 1114.5 220.4 1024.5 219.6 686.5 219.5 680.6 214.9 670.5 211.5 658.9M232.8 1138.5L232.5 1134.5 227.5 1128.4 223.5 1119.4 222.4 1104.5 220.8 1010.5 220.2 688.5 219.5 661.1 216 648.5 213.8 632.5 213.6 606.5 215.9 586.5 219.5 568.5 220.2 606.5 221.5 613.1 223.5 612.8 228.7 602.5 234.5 586.5 245.5 546.7 249.5 540.3 261.5 526.6 267.5 524.5 279.5 533.1 291.5 549.6 293.5 550.8 299.5 544.1 307.5 529.1 317.5 529.2 329.5 543.1 333.5 545.7 341.5 548.6 357.5 545 367.5 544.4 455.5 546 485.5 544.4 531.5 539.1 561.5 539.9 581.3 542.5 631.5 551.4 705.5 570.7 747.5 572.4 765.5 574.9 777.5 578.4 795.3 588.5 803.5 590.8 809.5 589.1 813.5 584 817.5 569.8 823.5 559.1 833.5 555.5 841.5 560.1 852.9 574.5 857.5 576.8 863.5 574.8 873.5 564.7 881.5 563.2 889.5 565.8 895.5 571.1 899.5 572.5 923.5 568.9 939.5 573.7 961.5 572.8 997.5 577.9 1009.5 580.4 1025.5 587.1 1053.5 596.9 1115 616.5 1141.5 626.8 1161.6 636.5 1191.9 654.5 1222.3 676.5 1241.5 694.4 1255.3 712.5 1265.3 730.5 1273.5 750.5 1280.1 772.5 1285.6 798.5 1288.5 820.5 1289.8 844.5 1289.1 872.5 1286.7 898.5 1283.4 918.5 1277.9 938.5 1267.5 968.7 1257.3 992.5 1249.5 1006.5 1239.5 1019.7 1227.5 1031.9 1214.2 1042.5 1199.5 1052.1 1183.7 1060.5 1165.5 1068.5 1147.5 1074.7 1099.5 1087.4 1019.5 1103 971.5 1110.4 915.8 1116.5 855.5 1122.1 706.3 1132.5 674.8 1136.5 668 1138.5M236.3 1138.5L237.5 1132.3 236.5 1130.5 231.5 1127.9 228.2 1124.5 224.8 1116.5 222.4 1078.5 221.1 974.5 220.8 700.5 219.5 639.3 217.7 620.5 217.9 606.5 219.5 590.3 220.4 614.5 221.5 616.8 223.5 615 228.5 604.5 234.3 588.5 245.5 548.3 249.5 542 261.5 528.3 267.5 526.3 279.5 535 291.5 551.8 293.5 553.2 299.5 547.4 305.5 536.5 307.5 534.6 317.5 539 323.5 548.6 329.5 555.2 333.5 557.6 341.5 560.2 357.5 557.4 403.6 554.5 489.5 552.9 515.5 553.9 533.5 556 539.4 558.5 534.3 560.5 505.5 565.2 495.8 568.5 495.1 570.5 498.6 572.5 507.4 574.5 526.4 576.5 547.5 577.4 627.5 576.7 649.5 578 671.5 581.2 707.5 589 765.5 595.3 777.5 597.6 793.5 603.3 801.5 605.2 809.5 604.2 813.5 600.8 817.5 592.3 823.5 587 833.5 584.8 841.5 586.4 853.5 594.2 857.5 595.2 863.5 593.9 873.5 587.8 881.5 586.9 889.5 588.4 895.5 591.7 899.5 592.6 923.5 591 939.5 594.6 961.5 595.1 975.5 597 1009.5 604.4 1081.2 632.5 1115.8 648.5 1137.5 660.8 1155.5 672.6 1170.9 684.5 1185.5 697.9 1199.1 712.5 1211.4 728.5 1221.4 744.5 1230.4 762.5 1238.1 782.5 1243.8 802.5 1247.2 820.5 1249 840.5 1249 860.5 1247.4 880.5 1244.3 900.5 1240.3 916.5 1234.2 932.5 1224.7 952.5 1214 972.5 1203.9 988.5 1194.8 1000.5 1185.6 1010.5 1174.2 1020.5 1163.1 1028.5 1149.6 1036.5 1133.5 1044.3 1099.5 1057.2 1055.8 1068.5 995.5 1080.5 871.5 1099.5 830.1 1104.5 741.5 1112.5 643.5 1119.7 569.5 1123.8 355.5 1132.5 313.5 1135.4 294.4 1138.5M279.5 1122.6L253.5 1124 247.5 1122.1 237.5 1122.9 233.5 1122 229.5 1119 227.5 1115.6 225.5 1106.5 223.5 1083.9 222.4 1052.5 221.3 942.5 221.4 716.5 220.6 626.5 221.9 620.5 228.4 606.5 234.8 588.5 245.5 550 247.5 546.2 257.5 534.3 261.5 530.1 265.5 528.4 267.5 528.1 269.5 529.3 279.5 537 291.5 554.3 293.5 555.9 299.5 551.3 305.5 543.4 307.5 542.8 315.7 552.5 321.5 562.9 325.8 568.5 331.5 572.7 341.5 575.3 377.5 572.2 413.5 571.9 505.5 580.4 602.2 584.5 633.5 588 705.5 603.8 765.5 611 777.5 613 801.5 619 809.5 618.2 813.5 615.7 817.5 609.5 823.5 605.9 833.5 604.4 841.5 605.3 853.5 610.7 857.5 611.5 863.5 610.7 873.5 606.7 881.5 606.5 889.5 607.9 899.5 611.3 923.5 612 939.5 615.7 961.5 618.6 981.5 623.4 1012.9 634.5 1070.7 662.5 1099.7 678.5 1123.5 695.4 1147 716.5 1165.6 738.5 1181.7 764.5 1195 794.5 1199.9 810.5 1203.1 826.5 1204.5 842.5 1204.3 860.5 1202.2 880.5 1198.5 898.5 1194.3 912.5 1188 926.5 1176.1 946.5 1161.5 967.6 1149.2 982.5 1135.3 996.5 1120.4 1008.5 1105.5 1017.8 1087.5 1026.5 1067.1 1034.5 1023.2 1048.5 975.2 1060.5 895.5 1074.8 839.5 1082.8 653.5 1102.8 583.5 1108.9 493.5 1113.9 279.5 1122.6M261.5 1112.5L239.5 1113.5 235.5 1112.8 231.5 1110.4 227.5 1101.4 224.5 1078.5 222.8 1042.5 221.9 970.5 221.3 640.5 222.9 622.5 234.7 590.5 245.5 551.7 247.5 548 257.5 536.1 261.5 532 265.5 530.3 267.5 530 271.5 532.4 279.5 539.1 293.5 559 303.5 554.3 306 554.5 307.5 556 315.2 572.5 320.9 580.5 327.5 585.4 335.5 587.9 341.5 588.5 357.5 586.6 389.5 584.8 437.5 584 510.4 586.5 567.5 590.1 595.5 593.9 630.6 600.5 705.5 617.7 777.5 628.5 799.5 633.4 809.5 633.4 813.5 631.6 817.5 627.5 823.5 625.3 831.5 624.7 841.5 625.6 857.5 630.3 873.5 628.6 879.5 629.1 899.5 634.3 923.5 638.3 965.5 649.4 991.5 658.9 1019.1 672.5 1060.6 698.5 1091.5 721.9 1109.5 739.5 1126.1 760.5 1140.5 784.5 1150.9 808.5 1154.7 822.5 1157 838.5 1157.3 854.5 1155.9 870.5 1152.9 886.5 1148 902.5 1142.7 914.5 1135.2 926.5 1121.5 943.6 1105.5 960.8 1090.4 974.5 1072.1 988.5 1053.5 1000.5 1035 1010.5 1012.7 1020.5 991.5 1028.5 942.8 1042.5 867.5 1059.4 829.5 1065.4 745.5 1075.6 649.5 1086.2 571.5 1093.4 491.5 1099 261.5 1112.5M251.5 1100.6L237.5 1100.7 233.5 1098.9 231.5 1096.9 227.5 1087 225.5 1075.3 224.4 1060.5 222.9 1016.5 222 918.5 222.3 640.5 224.2 622.5 236.5 586.5 245.5 553.6 247.5 549.9 257.5 537.9 261.5 533.9 265.5 532.2 267.5 532.1 271.5 534.5 279.5 541.3 293.5 562.8 297.5 563 302.5 566.5 305.5 571.4 310.2 582.5 313.5 587.4 321.9 594.5 331.5 598.6 341.5 599.6 385.5 596.4 463.5 594.8 507.5 596.2 551.5 600.2 579.5 604.2 612.4 610.5 707.5 633.7 795.5 651.2 809.5 652.3 813.5 651.5 817.5 649.3 823.5 648.5 841.5 649.8 857.5 653.6 873.5 654.6 881.5 656.1 924.2 668.5 957.5 681 981.4 692.5 1004 706.5 1027.3 724.5 1053.1 748.5 1073.5 772 1088.9 794.5 1099.2 816.5 1102.4 828.5 1104.2 842.5 1104.1 856.5 1102.3 870.5 1098.8 884.5 1093.2 898.5 1086.7 910.5 1079.1 920.5 1065 934.5 1041.5 954.4 1018 972.5 997.6 986.5 980.6 996.5 964.4 1004.5 922.5 1020.5 877.1 1034.5 841.5 1042.8 745.5 1058.2 653.5 1070.8 563.5 1079.7 322.6 1094.5 251.5 1100.6M243.5 1088.6L235.5 1087.6 231.5 1084.4 229.5 1080.9 227.5 1074.3 225.5 1060.5 224.1 1036.5 222.3 884.5 223.2 640.5 225.4 622.5 236.5 588.5 245.5 555.6 247.5 551.8 255.5 542.1 261.5 536 265.1 534.5 267.5 534.2 271.3 536.5 279.5 543.8 293.5 568.1 297.5 572.4 303.5 587 309.5 595.7 321.5 605.2 331.5 609.4 341.5 610.4 389.5 607.7 465.5 607.4 507.5 609.4 552.7 614.5 581.5 619.3 613.5 626.5 707.5 652.6 759.5 664.9 803.5 674 809.5 674.5 823.5 673.6 839.5 675.8 871.5 683.5 881.5 686.8 913.2 700.5 936.9 712.5 960 726.5 981.1 742.5 999.6 760.5 1017.5 782.5 1030.2 802.5 1038.1 820.5 1041.2 832.5 1042.4 844.5 1042 856.5 1039.8 870.5 1035.6 884.5 1029 898.5 1023 908.5 1015.1 918.5 1003.5 929.5 987.5 942.3 947.5 969.2 898.3 996.5 876.7 1006.5 859.5 1013 816.1 1024.5 745.5 1038.9 663.5 1053.3 601.5 1061.8 503.5 1070.7 316.4 1082.5 243.5 1088.6M255.5 1076.6L239.5 1077.4 235.5 1076.5 232.8 1074.5 229.5 1069 227.8 1062.5 225.5 1044.3 223.5 990.6 222.7 910.5 223.5 664.5 224.3 640.5 225.8 626.5 245.5 557.7 253.5 546.4 261.5 538.2 263.5 537.3 267.5 536.5 271.5 539 277.5 544.3 281.5 549.7 289.8 566.5 298.6 592.5 301.7 598.5 313.5 609.9 323.5 617.4 329.5 620.2 341.5 622 399.5 620.5 471.5 622.2 513.5 625.8 559.5 632.6 587.5 638.3 621.5 647.1 769.5 691.3 803.5 700.3 833.5 705.7 859.5 714.6 875.5 721.9 893.2 732.5 915.4 748.5 933.5 763.8 948.4 778.5 961.7 794.5 970.7 808.5 976.9 822.5 979.6 832.5 981 844.5 980.5 856.5 978.3 868.5 974.6 880.5 969.9 890.5 962.5 902.5 954.4 912.5 946 920.5 933 930.5 875.3 968.5 849.5 982.3 818.5 994.5 767.6 1010.5 721.4 1022.5 657.3 1036.5 595.5 1046.8 561.5 1051.1 495.5 1057.6 313.5 1071.1 255.5 1076.6M243.5 1066.5L235.5 1065.3 231.2 1060.5 227.5 1047 225.4 1024.5 223.5 951.3 223 868.5 224.9 652.5 227.5 624.5 245.5 560.1 253.5 548.6 261.5 540.5 263.5 539.7 267.5 539.1 271.5 541.6 277.5 547.3 281.5 553.3 288.7 570.5 295.2 598.5 299.5 606.5 321.5 628.4 329.5 633.6 341.5 635.5 375.5 635.2 439.5 637.3 501.5 642.1 535.5 647 571.5 653.7 598.8 660.5 633.5 670.9 667.1 682.5 819.5 738.8 845.5 750.5 866.4 764.5 885.5 782.5 901.2 802.5 907.1 812.5 911.6 822.5 914.5 832.5 916 844.5 915.5 856.5 912.6 870.5 908.3 882.5 903.2 892.5 893.9 906.5 884.8 916.5 865.5 931.7 841.5 945.4 797.5 965.5 731.5 992.5 690.6 1006.5 655.6 1016.5 620.5 1024.5 577.1 1032.5 491.5 1043 313.5 1058.9 243.5 1066.5M245.5 1054.6L237.5 1054.2 233.5 1051.6 231.5 1048.5 229.5 1042.8 227.5 1031.5 225.5 1004.5 223.7 920.5 223.4 848.5 225.6 664.5 227.2 638.5 229.4 622.5 245.5 562.7 253.5 551.1 259.5 544.9 263.5 542.3 267.5 541.8 269.5 543.1 275.5 548.3 279.5 553.8 283.5 562.5 286.7 572.5 290.9 598.5 293.5 607.3 297.5 613 307.5 622.8 319.5 642.1 325.5 647.8 331.5 649.9 337.5 650.5 369.5 651 425.5 653.7 464.3 656.5 495.5 659.9 527.5 665.1 561.5 672.1 583.5 677.8 609.5 686.2 648.1 700.5 689.2 718.5 743.6 744.5 787.2 768.5 812.9 784.5 830.8 798.5 843.7 812.5 848.8 820.5 852.4 828.5 855 838.5 855.6 848.5 854.7 858.5 851.6 870.5 847.3 880.5 842.4 888.5 832.4 900.5 823.9 908.5 803.4 922.5 767.8 940.5 694.1 974.5 655.4 990.5 627.5 999.9 595.5 1008.8 569.5 1014.5 533.8 1020.5 481.5 1027.8 313.5 1045.8 245.5 1054.6M255.5 1040.7L241.5 1042.1 235.5 1040.4 231.5 1034.8 229.5 1027.9 227.8 1016.5 225.5 976.3 224.4 924.5 224.2 798.5 227 664.5 230.4 626.5 233.5 610.2 245.5 565.6 251.5 556.2 261.5 546 265.5 544.9 269.5 546.3 275.5 552.2 279.4 558.5 284.5 574.5 287.9 600.5 290.4 610.5 293.5 616.4 306 630.5 309.6 638.5 315.5 657 317.8 660.5 321.5 663.6 331.5 666.1 365.5 667.5 415.5 671.3 485.5 679.4 540.2 690.5 567.5 697.7 588.5 704.5 622.9 718.5 652.5 732.5 681.4 748.5 712.8 768.5 738.3 786.5 754.7 800.5 768.9 816.5 776.8 830.5 779.3 838.5 780.3 848.5 779.7 856.5 777.2 866.5 773.1 876.5 767.2 886.5 751.7 904.5 736.8 916.5 716.4 928.5 668.4 952.5 632.1 968.5 599.5 980.9 575.5 988.7 543.8 996.5 503.5 1005 453.5 1013 307.5 1032.4 255.5 1040.7M255.5 1026.7L243.5 1028.4 237.5 1027.6 233.5 1023.9 231.5 1019.4 229.5 1010.7 227.5 991.5 225.5 944.9 224.8 802.5 228.8 664.5 232.8 622.5 235.5 607.8 245.5 569.1 251.5 559.3 261.5 549.3 265.5 548.3 269.5 550 273.8 554.5 278.4 562.5 282.3 576.5 285 602.5 287.1 612.5 291 620.5 299.7 630.5 304.1 638.5 306.5 648.5 309.4 672.5 311.5 677.3 315 680.5 323.5 683 361.5 686 409.5 691.6 477.5 701.7 523.3 712.5 571.5 727.8 591.9 736.5 618.9 750.5 639.1 762.5 659.3 776.5 676.6 790.5 690.9 804.5 700.4 816.5 707 828.5 710.7 842.5 710.4 856.5 705.8 872.5 696.8 888.5 683 904.5 669.5 915.8 652 926.5 626.8 938.5 593.5 952.5 571.5 960.4 493.5 982.1 442.6 992.5 307.5 1016.4 255.5 1026.7M245.5 1012.6L241.5 1012.8 237.5 1011.7 233.5 1007 231.5 1001.1 229.5 989.3 227.5 964.8 225.5 908.5 225.2 850.5 225.5 800.3 227.5 740.6 231.8 654.5 234.8 622.5 237.5 605.6 243.5 580.3 247.5 568.8 257.5 556.1 261.5 552.9 265.5 552.2 267.5 552.6 271.5 556.5 277.6 568.5 280.5 582.5 282.6 608.5 285.2 618.5 288.6 624.5 297.5 635.6 300.5 642.5 302.4 656.5 301.4 688.5 302.9 694.5 305.8 698.5 313.5 701.7 369.5 708.7 427.5 718.9 469.5 727.7 509.5 739.1 557.5 757.8 575.5 766.6 593.5 777.4 611.3 790.5 627 804.5 637.3 816.5 643.2 826.5 647.2 838.5 648 850.5 646.5 860.5 642.3 872.5 636.7 882.5 628.8 892.5 616.5 904.5 605.9 912.5 592.3 920.5 577.5 927.3 541.5 939.6 487.5 955.4 311.5 996 264.2 1008.5 245.5 1012.6M249.5 992.6L241.5 993.7 237.5 992.3 235.5 990.2 231.5 978.5 229.5 964.2 227.5 936.5 226.1 880.5 226.1 824.5 227.5 770.7 229.5 741 234.4 698.5 235.2 648.5 237.3 620.5 239.5 604.2 243.5 585.7 247.5 573.5 251.9 566.5 257.5 560 261.5 557.1 265.5 556.7 267.5 557.5 271.5 562.3 276.2 574.5 278.1 586.5 279.5 610.5 281.6 620.5 284.6 626.5 293.9 638.5 297.3 646.5 298.1 660.5 294.8 686.5 294.4 700.5 295.5 710.8 297.5 716.6 299.5 719.3 303.5 721.8 307.5 722.9 355.5 731.3 427.5 749.1 471.4 762.5 501.9 774.5 521.9 784.5 539.1 794.5 553.7 804.5 563.3 812.5 571.5 821.6 576.9 830.5 579.6 838.5 580.5 848.5 579.5 856.5 576.1 866.5 570.4 876.5 563.6 884.5 554.6 892.5 540.6 902.5 526.8 910.5 514 916.5 495.5 923.6 473.5 930.2 387.5 951.6 311.5 972.2 249.5 992.6M245.5 970.9L239.5 970.7 235.5 967 231.5 953.7 229.5 938 227.3 884.5 227.8 800.5 229.5 769 231.5 751.8 235.5 735.2 243.2 718.5 245.2 708.5 244.7 696.5 238.8 652.5 239.4 626.5 241.5 604.3 245.5 584.6 248.9 576.5 255.5 566.7 259.5 563.1 263.5 561.8 267.5 563.3 269.5 566.1 273.5 576.5 275.3 588.5 276.3 614.5 278.2 624.5 281.4 630.5 291.2 642.5 293.9 650.5 294.3 660.5 290 692.5 289.1 720.5 290.6 732.5 295.5 741.6 299.5 744.9 305.5 747.6 352.4 760.5 407.2 780.5 431.9 790.5 452.6 800.5 472.3 812.5 485.7 824.5 490 830.5 492.9 836.5 494.4 842.5 494.7 848.5 493.3 856.5 489.9 864.5 484.7 872.5 479.3 878.5 464.1 890.5 439.2 904.5 409.6 916.5 307.5 948 245.5 970.9M245.5 946.8L239.5 946.7 235.5 942.7 233.5 937.6 231.3 926.5 229.5 905.8 228.7 874.5 229.4 804.5 231.5 779.4 233.5 768.3 237.5 757.9 245.5 746.6 248.3 740.5 251.5 730.1 255.3 710.5 256 700.5 255 690.5 251.3 674.5 245.5 658.7 243.2 648.5 242.3 636.5 242.5 620.5 244.4 600.5 247.5 586.9 253.5 575 257.5 570.4 261.5 567.9 265.5 568.9 267.5 571 270.9 580.5 272.3 592.5 272.8 620.5 274.7 630.5 277.5 635.2 286.8 644.5 290.1 652.5 290.5 662.5 286.4 690.5 283.7 734.5 285.5 745.6 293.5 766.1 297.5 772.7 303.5 777.8 345 796.5 358.9 804.5 372.9 814.5 383.3 824.5 389 832.5 392.3 840.5 393.1 848.5 390.2 860.5 381.4 874.5 369.6 886.5 353.2 898.5 327.7 912.5 267.8 938.5 245.5 946.8M247.5 920.9L241.5 922 237.5 919.6 235.5 915.9 233.5 907.7 231 874.5 231.2 822.5 233.1 800.5 235.5 788.9 249.5 760.9 253.5 750.2 262.1 700.5 262.3 688.5 258.2 658.5 256.8 654.5 249.5 644.1 247.5 639.1 245.8 622.5 246.8 604.5 249.5 592.1 255.5 579.9 259.5 576.3 261.5 575.6 265.5 578.7 268.3 588.5 268.9 602.5 267.9 630.5 269.1 638.5 271.5 642 279.5 646.3 283.5 649.9 285.5 653.9 286.4 658.5 286.2 666.5 282.7 688.5 281.5 712.5 278.7 734.5 279 744.5 285.2 768.5 290.2 806.5 293.5 814.1 302.5 826.5 306.9 834.5 309.3 842.5 309.7 850.5 308.3 858.5 304.5 868.5 298.6 878.5 290.7 888.5 278.7 900.5 268.9 908.5 256.5 916.5 247.5 920.9M257.5 626.1L255.5 626.2 253.5 624 252 618.5 251.5 610.5 253.8 596.5 255.5 592.4 259.5 588.5 261.5 589.2 263.3 594.5 263.7 606.5 261.5 619.8 259.5 624.1 257.5 626.1M243.5 873.1L241.5 873.1 239.5 870.6 237.5 862.3 236.7 842.5 237.8 824.5 240.8 808.5 246 788.5 261.3 746.5 263.5 720.1 270.6 688.5 269.2 666.5 271.5 660 275.5 657.5 277.5 658 279.5 660.3 280.3 666.5 276.7 686.5 277.5 713.6 272.6 742.5 280.5 772.5 281.1 784.5 280.1 796.5 276.2 814.5 269.5 831.7 249.5 866.2 243.5 873.1M261.5 819.1L257.5 819.3 255.5 818.2 252.9 814.5 250.9 806.5 250.9 796.5 252.9 784.5 257.5 770.8 263.5 760.4 267.5 758.1 271.5 760.9 275 768.5 276.6 778.5 276.3 788.5 274.4 798.5 270.6 808.5 265.5 816.2 261.5 819.1M261.5 804.7L259.5 803.5 257.5 799.2 257.6 786.5 261.5 775 265.4 770.5 267.5 770.2 269.5 771.7 271.5 776.6 271.5 789.1 267.5 800.4 263.5 804.4 261.5 804.7"/><defs><filter id="b2" x="-20%" y="-20%" width="140%" height="140%"><feGaussianBlur stdDeviation="2.5"/></filter></defs><path d="M219.5 190.0C220.1 53.3 221.8 178.3 223.0 180.0C224.2 181.7 226.0 180.0 227.0 200.0C228.0 220.0 228.7 258.3 229.0 300.0C229.3 341.7 228.5 413.3 229.0 450.0C229.5 486.7 231.3 453.3 232.0 520.0C232.7 586.7 233.2 780.0 233.0 850.0C232.8 920.0 232.0 915.0 231.0 940.0C230.0 965.0 228.3 986.7 227.0 1000.0C225.7 1013.3 224.2 1020.0 223.0 1020.0C221.8 1020.0 220.1 1138.3 219.5 1000.0C218.9 861.7 218.9 326.7 219.5 190.0z" fill="#000" stroke="none"/><path d="M250.0 490.0C255.6 486.3 264.8 502.5 271.5 508.0C278.2 513.5 285.1 518.6 290.3 523.1C295.6 527.6 299.9 530.2 303.0 535.0C306.1 539.8 309.2 543.3 309.2 552.0C309.2 560.7 306.1 577.0 303.0 587.2C299.9 597.5 295.6 604.7 290.3 613.5C285.1 622.3 277.8 632.8 271.5 639.9C265.2 647.0 258.3 650.6 252.7 656.0C247.0 661.4 241.2 671.3 237.6 672.0C234.0 672.7 231.6 671.0 231.0 660.0C230.4 649.0 232.8 627.7 234.0 606.0C235.2 584.3 235.3 549.3 238.0 530.0C240.7 510.7 244.4 493.7 250.0 490.0z" fill="#1a0000" fill-opacity="0.9" stroke="none" filter="url(#b2)"/><path d="M233.0 600.0C235.2 591.3 241.2 559.8 246.0 548.0C250.8 536.2 258.3 532.5 261.8 529.0C265.3 525.5 264.1 525.6 267.0 526.7C269.9 527.8 274.8 531.4 279.1 535.4C283.4 539.4 289.4 550.6 292.9 550.9C296.3 551.2 297.5 542.9 299.8 537.1C302.1 531.4 303.8 521.0 306.7 516.4C309.6 511.8 313.1 508.8 317.1 509.4C321.1 510.0 326.9 517.3 330.9 519.8C334.9 522.2 337.0 524.4 341.3 524.1C345.6 523.8 349.6 519.7 356.8 518.1C364.0 516.5 374.0 515.7 384.7 514.5C395.4 513.3 409.0 512.1 421.1 510.9C433.2 509.7 445.3 508.3 457.4 507.3C469.5 506.3 481.7 505.2 493.8 504.8C505.9 504.4 518.1 504.4 530.2 504.8C542.3 505.2 552.4 505.7 566.5 507.3C580.6 508.9 604.1 513.0 615.0 514.5C625.9 516.0 622.9 514.6 631.8 516.4C640.7 518.2 655.8 522.2 668.2 525.5C680.6 528.8 697.0 535.1 706.4 536.4C715.8 537.6 717.9 534.1 724.7 533.0C731.5 531.9 740.5 530.1 747.4 529.9C754.3 529.7 760.8 530.5 765.9 532.0C771.0 533.5 774.9 535.9 778.3 539.2C781.7 542.5 783.8 546.5 786.5 551.6C789.2 556.8 792.0 565.0 794.8 570.1C797.5 575.2 800.6 581.1 803.0 582.5C805.4 583.9 807.3 583.2 809.2 578.4C811.1 573.6 813.0 563.9 814.4 553.6C815.8 543.3 816.0 526.1 817.5 516.5C819.0 506.9 821.0 500.5 823.6 495.9C826.2 491.3 829.8 488.7 832.9 488.7C836.0 488.7 839.6 491.9 842.2 495.9C844.8 499.8 846.7 506.2 848.4 512.4C850.1 518.6 851.1 527.9 852.5 533.0C853.9 538.1 854.9 542.3 856.6 543.3C858.3 544.3 861.1 543.0 862.8 539.2C864.5 535.4 865.2 526.9 866.9 520.7C868.6 514.5 870.7 506.2 873.1 502.1C875.5 498.0 878.5 495.9 881.3 495.9C884.0 495.9 887.2 498.0 889.6 502.1C892.0 506.2 894.1 516.9 895.8 520.7C897.5 524.5 897.5 525.8 899.9 524.8C902.3 523.8 906.4 518.1 910.2 514.5C914.0 510.9 919.4 504.6 922.5 503.2C925.6 501.8 926.0 503.6 928.7 506.2C931.5 508.8 935.6 517.6 939.0 518.6C942.4 519.6 945.5 514.8 949.3 512.4C953.1 510.0 956.9 505.9 961.7 504.2C966.5 502.5 970.3 502.8 978.2 502.1C986.1 501.4 1002.6 499.8 1009.1 500.1C1015.6 500.5 1014.5 501.8 1017.3 504.2C1020.0 506.6 1019.6 510.8 1025.6 514.5C1031.6 518.2 1040.7 523.6 1053.1 526.5C1065.5 529.4 1085.1 530.4 1099.8 532.0C1114.5 533.6 1129.6 533.8 1141.0 536.1C1152.4 538.4 1159.2 542.1 1168.4 545.7C1177.6 549.4 1189.0 555.0 1195.9 558.0C1202.8 561.0 1202.7 562.8 1209.6 563.5C1216.5 564.2 1227.9 563.1 1237.1 562.2C1246.2 561.3 1253.1 560.1 1264.5 558.0C1275.9 555.9 1296.5 552.1 1305.7 549.8C1314.9 547.5 1315.3 545.9 1319.4 544.3C1323.5 542.7 1327.4 540.2 1330.4 540.2C1333.4 540.2 1334.5 539.0 1337.3 544.3C1340.0 549.6 1343.5 560.8 1346.9 571.8C1350.3 582.8 1354.7 598.8 1357.9 610.2C1361.1 621.6 1363.8 629.9 1366.1 640.4C1368.4 650.9 1370.2 661.0 1371.6 673.4C1373.0 685.8 1373.6 695.1 1374.3 714.5C1375.0 733.9 1375.6 750.8 1375.7 790.0C1375.8 829.2 1375.2 898.3 1375.0 950.0C1374.8 1001.7 1374.9 1073.7 1374.3 1100.0C1373.7 1126.3 1373.0 1105.2 1371.6 1108.0C1370.2 1110.8 1368.4 1114.3 1366.1 1116.7C1363.8 1119.1 1361.3 1120.4 1357.9 1122.2C1354.5 1124.0 1347.6 1126.8 1345.5 1127.7" stroke-width="4.2" stroke-linecap="round" stroke-linejoin="round"/><path d="M1127.3 476.0C1136.5 477.3 1163.9 479.8 1182.2 483.9C1200.5 488.0 1223.4 498.1 1237.1 500.4C1250.8 502.7 1255.3 500.4 1264.5 497.7C1273.7 494.9 1282.8 488.5 1292.0 483.9C1301.2 479.3 1312.1 474.8 1319.4 470.2C1326.7 465.6 1331.8 461.5 1335.9 456.5C1340.0 451.5 1342.2 446.1 1344.2 440.0C1346.2 433.9 1347.4 423.3 1348.0 420.0M1040.0 500.0C1050.0 499.7 1080.7 495.6 1099.8 498.0C1118.9 500.4 1136.4 508.7 1154.7 514.1C1173.0 519.5 1195.9 527.2 1209.6 530.6C1223.3 534.0 1227.9 534.7 1237.1 534.7C1246.2 534.7 1255.3 533.6 1264.5 530.6C1273.7 527.6 1282.8 524.7 1292.0 516.9C1301.2 509.1 1312.5 491.0 1319.4 483.9C1326.3 476.8 1327.2 476.1 1333.2 474.3C1339.2 472.5 1350.1 476.8 1355.1 472.9C1360.1 469.0 1361.6 458.1 1363.4 451.0C1365.2 443.9 1365.6 433.5 1366.0 430.0" stroke-width="1.1"/></g><rect x="215.5" y="96.5" width="1170.0" height="1039.0" fill="none" stroke="#000" stroke-width="1.3"/><path d="M217.2 1135.5v-11M217.2 96.5v11M411.5 1135.5v-11M411.5 96.5v11M605.8 1135.5v-11M605.8 96.5v11M800.0 1135.5v-11M800.0 96.5v11M994.2 1135.5v-11M994.2 96.5v11M1188.5 1135.5v-11M1188.5 96.5v11M1382.8 1135.5v-11M1382.8 96.5v11M215.5 1132.9h11M1385.5 1132.9h-11M215.5 1003.5h11M1385.5 1003.5h-11M215.5 874.2h11M1385.5 874.2h-11M215.5 744.9h11M1385.5 744.9h-11M215.5 615.5h11M1385.5 615.5h-11M215.5 486.1h11M1385.5 486.1h-11M215.5 356.8h11M1385.5 356.8h-11M215.5 227.4h11M1385.5 227.4h-11M215.5 98.1h11M1385.5 98.1h-11" stroke="#000" stroke-width="1.2" fill="none"/><defs><linearGradient id="cb" x1="0" y1="1" x2="0" y2="0"><stop offset="0.00" stop-color="#ffffff"/><stop offset="0.01" stop-color="#fffbfb"/><stop offset="0.02" stop-color="#fff8f8"/><stop offset="0.03" stop-color="#fff4f4"/><stop offset="0.04" stop-color="#fff0f0"/><stop offset="0.05" stop-color="#ffecec"/><stop offset="0.06" stop-color="#ffe8e8"/><stop offset="0.07" stop-color="#ffe5e5"/><stop offset="0.08" stop-color="#ffe1e1"/><stop offset="0.09" stop-color="#ffdddd"/><stop offset="0.10" stop-color="#ffdada"/><stop offset="0.11" stop-color="#ffd6d6"/><stop offset="0.12" stop-color="#ffd2d2"/><stop offset="0.13" stop-color="#ffcece"/><stop offset="0.14" stop-color="#ffcbcb"/><stop offset="0.15" stop-color="#ffc7c7"/><stop offset="0.16" stop-color="#ffc3c3"/><stop offset="0.17" stop-color="#ffbfbf"/><stop offset="0.18" stop-color="#ffbcbc"/><stop offset="0.19" stop-color="#ffb8b8"/><stop offset="0.20" stop-color="#ffb4b4"/><stop offset="0.21" stop-color="#ffb0b0"/><stop offset="0.22" stop-color="#ffacac"/><stop offset="0.23" stop-color="#ffa9a9"/><stop offset="0.24" stop-color="#ffa5a5"/><stop offset="0.25" stop-color="#ffa1a1"/><stop offset="0.26" stop-color="#ff9e9e"/><stop offset="0.27" stop-color="#ff9a9a"/><stop offset="0.28" stop-color="#ff9696"/><stop offset="0.29" stop-color="#ff9292"/><stop offset="0.30" stop-color="#ff8e8e"/><stop offset="0.31" stop-color="#ff8b8b"/><stop offset="0.32" stop-color="#ff8787"/><stop offset="0.33" stop-color="#ff8383"/><stop offset="0.34" stop-color="#ff8080"/><stop offset="0.35" stop-color="#ff7c7c"/><stop offset="0.36" stop-color="#ff7878"/><stop offset="0.37" stop-color="#ff7474"/><stop offset="0.38" stop-color="#ff7171"/><stop offset="0.39" stop-color="#ff6d6d"/><stop offset="0.40" stop-color="#ff6969"/><stop offset="0.41" stop-color="#ff6565"/><stop offset="0.42" stop-color="#ff6262"/><stop offset="0.43" stop-color="#ff5e5e"/><stop offset="0.44" stop-color="#ff5a5a"/><stop offset="0.45" stop-color="#ff5656"/><stop offset="0.46" stop-color="#ff5353"/><stop offset="0.47" stop-color="#ff4f4f"/><stop offset="0.48" stop-color="#ff4b4b"/><stop offset="0.49" stop-color="#ff4747"/><stop offset="0.50" stop-color="#ff4444"/><stop offset="0.51" stop-color="#ff4040"/><stop offset="0.52" stop-color="#ff3c3c"/><stop offset="0.53" stop-color="#ff3838"/><stop offset="0.54" stop-color="#ff3535"/><stop offset="0.55" stop-color="#ff3131"/><stop offset="0.56" stop-color="#ff2d2d"/><stop offset="0.57" stop-color="#ff2929"/><stop offset="0.58" stop-color="#ff2626"/><stop offset="0.59" stop-color="#ff2222"/><stop offset="0.60" stop-color="#ff1e1e"/><stop offset="0.61" stop-color="#ff1a1a"/><stop offset="0.62" stop-color="#ff1717"/><stop offset="0.63" stop-color="#ff1313"/><stop offset="0.64" stop-color="#ff0f0f"/><stop offset="0.65" stop-color="#ff0b0b"/><stop offset="0.66" stop-color="#ff0808"/><stop offset="0.67" stop-color="#ff0404"/><stop offset="0.68" stop-color="#ff0000"/><stop offset="0.69" stop-color="#f90000"/><stop offset="0.70" stop-color="#f30000"/><stop offset="0.71" stop-color="#ed0000"/><stop offset="0.72" stop-color="#e70000"/><stop offset="0.73" stop-color="#e10000"/><stop offset="0.74" stop-color="#da0000"/><stop offset="0.75" stop-color="#d40000"/><stop offset="0.76" stop-color="#ce0000"/><stop offset="0.77" stop-color="#c80000"/><stop offset="0.78" stop-color="#c20000"/><stop offset="0.79" stop-color="#bc0000"/><stop offset="0.80" stop-color="#b60000"/><stop offset="0.81" stop-color="#b00000"/><stop offset="0.82" stop-color="#aa0000"/><stop offset="0.83" stop-color="#a40000"/><stop offset="0.84" stop-color="#9e0000"/><stop offset="0.85" stop-color="#970000"/><stop offset="0.86" stop-color="#910000"/><stop offset="0.87" stop-color="#8b0000"/><stop offset="0.88" stop-color="#850000"/><stop offset="0.89" stop-color="#7f0000"/><stop offset="0.90" stop-color="#790000"/><stop offset="0.91" stop-color="#730000"/><stop offset="0.92" stop-color="#6d0000"/><stop offset="0.93" stop-color="#670000"/><stop offset="0.94" stop-color="#610000"/><stop offset="0.95" stop-color="#5a0000"/><stop offset="0.96" stop-color="#540000"/><stop offset="0.97" stop-color="#4e0000"/><stop offset="0.98" stop-color="#480000"/><stop offset="0.99" stop-color="#420000"/><stop offset="1.00" stop-color="#3c0000"/></linearGradient></defs><rect x="1418" y="96.8" width="41.5" height="1039.0" fill="url(#cb)" stroke="#000" stroke-width="1.3"/><path d="M1418 1031.9h10M1459.5 1031.9h-10M1418 928.0h10M1459.5 928.0h-10M1418 824.1h10M1459.5 824.1h-10M1418 720.2h10M1459.5 720.2h-10M1418 616.3h10M1459.5 616.3h-10M1418 512.4h10M1459.5 512.4h-10M1418 408.5h10M1459.5 408.5h-10M1418 304.6h10M1459.5 304.6h-10M1418 200.7h10M1459.5 200.7h-10" stroke="#000" stroke-width="1.2" fill="none"/><g style="font-family:'Liberation Sans',sans-serif;font-size:22px" fill="#000"><text x="217.2" y="1167" text-anchor="middle">0</text><text x="411.5" y="1167" text-anchor="middle">10</text><text x="605.8" y="1167" text-anchor="middle">20</text><text x="800.0" y="1167" text-anchor="middle">30</text><text x="994.2" y="1167" text-anchor="middle">40</text><text x="1188.5" y="1167" text-anchor="middle">50</text><text x="1382.8" y="1167" text-anchor="middle">60</text><text x="209" y="1143.7" text-anchor="end">15</text><text x="209" y="1014.3" text-anchor="end">20</text><text x="209" y="885.0" text-anchor="end">25</text><text x="209" y="755.6" text-anchor="end">30</text><text x="209" y="626.3" text-anchor="end">35</text><text x="209" y="496.9" text-anchor="end">40</text><text x="209" y="367.6" text-anchor="end">45</text><text x="209" y="238.2" text-anchor="end">50</text><text x="209" y="108.9" text-anchor="end">55</text><text x="800" y="77" text-anchor="middle">HYCOM expt_04.6 YR=51-100 - ANNUAL MEAN SSH STD 0.0187 / 0.2098 (COLOR) AND MEAN (CI 2CM)</text><text x="800" y="1198" text-anchor="middle">LONGITUDE (E)</text><text transform="translate(170 617.5) rotate(-90)" text-anchor="middle">LATITUDE (N)</text><text x="1465" y="1042.4">0.01</text><text x="1465" y="938.5">0.02</text><text x="1465" y="834.6">0.03</text><text x="1465" y="730.7">0.04</text><text x="1465" y="626.8">0.05</text><text x="1465" y="522.9">0.06</text><text x="1465" y="419.0">0.07</text><text x="1465" y="315.1">0.08</text><text x="1465" y="211.2">0.09</text><text x="1465" y="107">0.1</text></g></svg></body></html>
